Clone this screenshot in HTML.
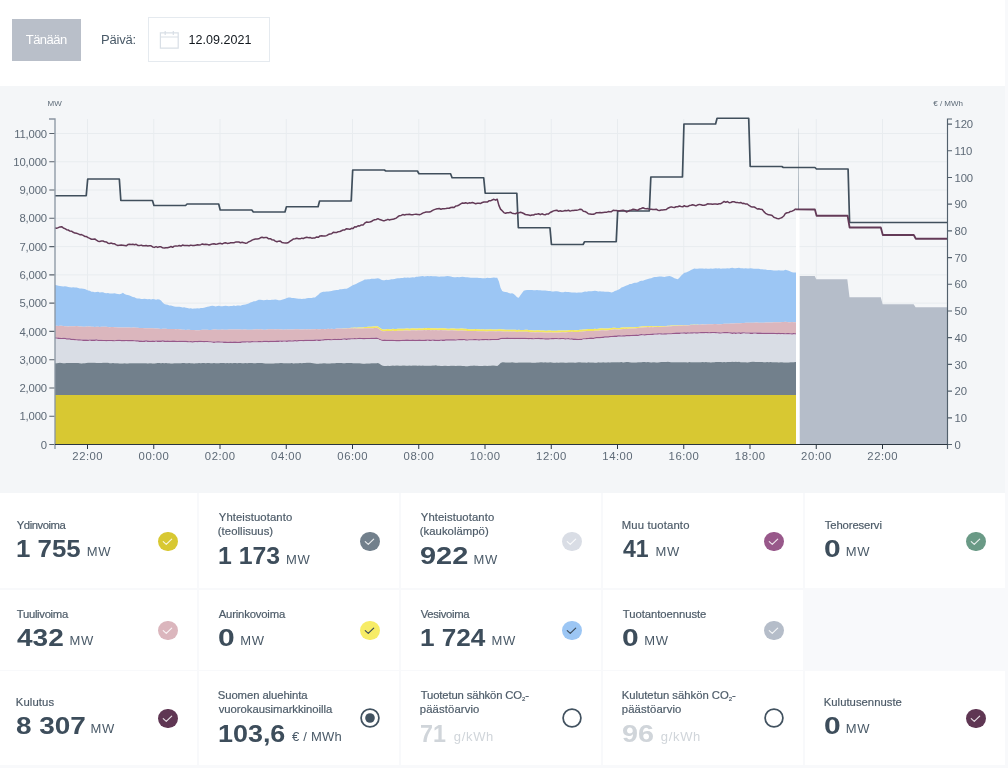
<!DOCTYPE html>
<html lang="fi"><head><meta charset="utf-8"><title>Sähköjärjestelmän tila</title>
<style>
*{box-sizing:border-box;margin:0;padding:0}
html,body{width:1008px;height:768px;overflow:hidden;background:#f8f9fb;font-family:"Liberation Sans",sans-serif;color:#3d4d5b}
.page{position:absolute;left:0;top:0;width:1005px;height:768px;background:#fff;overflow:hidden;will-change:transform}
.btn{position:absolute;left:12px;top:19px;width:68.5px;height:42px;background:#b9bfc9;color:#fff;font-size:13px;line-height:42px;text-align:center;letter-spacing:-0.5px}
.plbl{position:absolute;left:101px;top:30px;font-size:13px;line-height:20px;color:#4a5a68;letter-spacing:-0.2px}
.date{position:absolute;left:148px;top:17px;width:122px;height:45px;border:1px solid #e5eaef;background:#fff}
.date svg{position:absolute;left:10px;top:12px}
.date span{position:absolute;left:39.5px;top:11.7px;font-size:12.5px;line-height:20px;color:#11171d;letter-spacing:0.05px}
.panel{position:absolute;left:0;top:86px;width:1005px;height:407px;background:#f4f6f8}
.chart{position:absolute;left:0;top:0}
.cards{position:absolute;left:0;top:493px;width:1005px;height:275px;background:#f8f9fb}
.card{position:absolute;background:#fff}
.cardwrap{position:absolute;left:0;top:0;will-change:transform}
.lb{position:absolute;white-space:nowrap;font-size:11.3px;line-height:13px;color:#4e5c69;-webkit-text-stroke:0.2px #4e5c69}
.lb sub{font-size:6px;vertical-align:baseline;position:relative;top:2px}
.nm{position:absolute;white-space:nowrap;font-size:24px;line-height:27px;font-weight:700;color:#3d4d5b;transform-origin:0 50%}
.un{position:absolute;white-space:nowrap;font-size:13px;line-height:15px;color:#4a5a68}
.faded .nm,.faded .un{color:#d0d5da}
.ic{position:absolute;width:20px;height:20px}
.ck{display:block;width:19.4px;height:19.4px;border-radius:50%;margin:0.5px 0 0 0.5px}
.ck svg,.rdo{display:block}
.rd{display:block;width:19.5px;height:19.5px;border-radius:50%;border:1.9px solid #425260;position:relative;margin:0.25px}
.rd i{position:absolute;left:50%;top:50%;width:9.6px;height:9.6px;margin:-4.8px 0 0 -4.8px;border-radius:50%;background:#425260}
.empty{position:absolute;left:804px;top:589px;width:201px;height:81.5px;background:#f8f9fb}
</style></head><body>
<div class="page">
<div class="btn">Tänään</div>
<div class="plbl">Päivä:</div>
<div class="date"><svg width="21" height="20" viewBox="0 0 21 20"><path d="M1.4 2.8h17.8v15.3h-17.8zM1.4 7h17.8M6.2 1v3.9M14.3 1v3.9" fill="none" stroke="#d9dfe6" stroke-width="1.2"/></svg><span>12.09.2021</span></div>
<div class="panel"><svg class="chart" width="1005" height="407" viewBox="0 86 1005 407">
<defs><linearGradient id="ng" x1="0" y1="0" x2="0" y2="1"><stop offset="0" stop-color="#8593a0" stop-opacity="0.15"/><stop offset="1" stop-color="#8593a0" stop-opacity="0.8"/></linearGradient></defs>
<path d="M87.5 119.0V444.5M153.75 119.0V444.5M220 119.0V444.5M286.25 119.0V444.5M352.5 119.0V444.5M418.75 119.0V444.5M485 119.0V444.5M551.25 119.0V444.5M617.5 119.0V444.5M683.75 119.0V444.5M750 119.0V444.5M816.25 119.0V444.5M882.5 119.0V444.5M55.0 416.23H947.5M55.0 387.95H947.5M55.0 359.68H947.5M55.0 331.41H947.5M55.0 303.13H947.5M55.0 274.86H947.5M55.0 246.59H947.5M55.0 218.32H947.5M55.0 190.04H947.5M55.0 161.77H947.5M55.0 133.5H947.5" stroke="#e8ecef" stroke-width="1" fill="none"/>
<path d="M55 285.09 L56.66 285.37 L58.31 285.7 L59.97 286.09 L61.62 286.26 L63.28 286.58 L64.94 286.23 L66.59 286.41 L68.25 286.94 L69.91 287.13 L71.56 287.51 L73.22 287.27 L74.88 287.46 L76.53 287.62 L78.19 288.05 L79.84 288.47 L81.5 288.46 L83.16 288.73 L84.81 289.07 L86.47 289.85 L88.12 290.47 L89.78 290.81 L91.44 291.72 L93.09 291.87 L94.75 292.13 L96.41 291.98 L98.06 291.84 L99.72 292.41 L101.38 292.33 L103.03 292.33 L104.69 292.91 L106.34 293.22 L108 293.04 L109.66 293.45 L111.31 293.44 L112.97 293.57 L114.62 293.36 L116.28 293.8 L117.94 293.92 L119.59 294.23 L121.25 293.81 L122.91 292.75 L124.56 294.09 L126.22 294.7 L127.88 295.1 L129.53 295.51 L131.19 296.15 L132.84 296.96 L134.5 297.26 L136.16 298.14 L137.81 298.55 L139.47 298.56 L141.12 298.94 L142.78 298.95 L144.44 298.87 L146.09 298.96 L147.75 299.19 L149.41 298.89 L151.06 299.38 L152.72 299.03 L154.38 299.35 L156.03 299.63 L157.69 299.24 L159.34 299.57 L161 300.56 L162.66 302.45 L164.31 303.92 L165.97 304.61 L167.62 304.8 L169.28 305.54 L170.94 305.53 L172.59 306 L174.25 306.49 L175.91 306.87 L177.56 306.77 L179.22 306.79 L180.88 307.01 L182.53 307.4 L184.19 307.25 L185.84 307.69 L187.5 308.07 L189.16 308.43 L190.81 308.15 L192.47 308.7 L194.12 308.51 L195.78 308.45 L197.44 308.37 L199.09 308.44 L200.75 307.98 L202.41 308.02 L204.06 307.68 L205.72 307.22 L207.38 306.86 L209.03 306.44 L210.69 306.03 L212.34 305.74 L214 306.04 L215.66 306.43 L217.31 306.07 L218.97 305.76 L220.62 306.22 L222.28 306.17 L223.94 306.03 L225.59 305.82 L227.25 305.93 L228.91 306.15 L230.56 306.01 L232.22 305.89 L233.88 305.55 L235.53 305.94 L237.19 305.54 L238.84 305.61 L240.5 305.74 L242.16 304.93 L243.81 304.66 L245.47 304.46 L247.12 303.91 L248.78 303.5 L250.44 302.57 L252.09 302.05 L253.75 301.34 L255.41 301.18 L257.06 300.43 L258.72 299.85 L260.38 299.8 L262.03 299.97 L263.69 300.18 L265.34 299.95 L267 299.86 L268.66 299.99 L270.31 299.91 L271.97 299.74 L273.62 299.74 L275.28 299.57 L276.94 299.65 L278.59 300.14 L280.25 300.37 L281.91 299.87 L283.56 299.32 L285.22 298.71 L286.88 298 L288.53 297.54 L290.19 297.52 L291.84 297.95 L293.5 297.92 L295.16 298.27 L296.81 298.54 L298.47 298.72 L300.12 298.87 L301.78 299.1 L303.44 298.73 L305.09 298.66 L306.75 298.25 L308.41 298.09 L310.06 298.12 L311.72 298.02 L313.38 297.61 L315.03 297.39 L316.69 296.04 L318.34 294.66 L320 292.9 L321.66 292.26 L323.31 291.83 L324.97 291.76 L326.62 291.46 L328.28 291.41 L329.94 291.15 L331.59 290.98 L333.25 290.46 L334.91 290.23 L336.56 290.05 L338.22 289.89 L339.88 289.35 L341.53 289.25 L343.19 289.1 L344.84 288.77 L346.5 288.66 L348.16 288.1 L349.81 287.04 L351.47 286.1 L353.12 284.95 L354.78 284.41 L356.44 283.84 L358.09 282.85 L359.75 282.08 L361.41 281.32 L363.06 280.55 L364.72 279.46 L366.38 279.48 L368.03 279.28 L369.69 279.15 L371.34 278.83 L373 278.7 L374.66 278.66 L376.31 278.47 L377.97 278.34 L379.62 278.77 L381.28 279.7 L382.94 280.17 L384.59 280.2 L386.25 279.86 L387.91 279.91 L389.56 279.83 L391.22 279.31 L392.88 279.23 L394.53 278.95 L396.19 278.59 L397.84 278.36 L399.5 278.29 L401.16 278.09 L402.81 277.91 L404.47 277.62 L406.12 277.68 L407.78 277.6 L409.44 277.64 L411.09 277.58 L412.75 277.24 L414.41 277.43 L416.06 276.85 L417.72 276.71 L419.38 276.48 L421.03 276.36 L422.69 276.08 L424.34 276.46 L426 276.36 L427.66 276.06 L429.31 276.28 L430.97 276.04 L432.62 276.2 L434.28 276.15 L435.94 276.28 L437.59 276.62 L439.25 276.71 L440.91 276.49 L442.56 276.62 L444.22 276.57 L445.88 276.35 L447.53 276.08 L449.19 276.33 L450.84 276.49 L452.5 276.9 L454.16 277.19 L455.81 277.15 L457.47 276.99 L459.12 277.31 L460.78 276.92 L462.44 276.79 L464.09 277.08 L465.75 277.32 L467.41 277.18 L469.06 277.47 L470.72 277.87 L472.38 277.78 L474.03 277.81 L475.69 277.72 L477.34 277.73 L479 278.12 L480.66 277.93 L482.31 278.21 L483.97 278.32 L485.62 278.15 L487.28 277.8 L488.94 278.08 L490.59 277.89 L492.25 277.7 L493.91 277.51 L495.56 277.84 L497.22 277.68 L498.88 281.58 L500.53 287.65 L502.19 291.1 L503.84 291.66 L505.5 292.01 L507.16 292.25 L508.81 292.88 L510.47 293.43 L512.12 293.33 L513.78 294.12 L515.44 295.4 L517.09 297.2 L518.75 297.67 L520.41 295.25 L522.06 292.96 L523.72 290.66 L525.38 290.14 L527.03 289.94 L528.69 290.04 L530.34 290.01 L532 290.1 L533.66 290.14 L535.31 290.25 L536.97 289.88 L538.62 290.26 L540.28 290.22 L541.94 290.42 L543.59 290.46 L545.25 290.51 L546.91 290.76 L548.56 290.93 L550.22 291.01 L551.88 291.39 L553.53 291.57 L555.19 291.29 L556.84 291.29 L558.5 291.45 L560.16 291.9 L561.81 292.18 L563.47 292.13 L565.12 291.76 L566.78 292.09 L568.44 292.08 L570.09 292.2 L571.75 292.39 L573.41 292.47 L575.06 292.45 L576.72 292.76 L578.38 292.61 L580.03 292.38 L581.69 292.43 L583.34 291.93 L585 291.62 L586.66 291.73 L588.31 291.18 L589.97 291.32 L591.62 291.22 L593.28 290.9 L594.94 290.73 L596.59 291.12 L598.25 291.51 L599.91 291.27 L601.56 291.42 L603.22 291.62 L604.88 291.77 L606.53 291.81 L608.19 291.76 L609.84 292.1 L611.5 292.53 L613.16 292.06 L614.81 291.06 L616.47 290.5 L618.12 289.79 L619.78 288.91 L621.44 287.58 L623.09 286.9 L624.75 286.32 L626.41 285.62 L628.06 285.05 L629.72 284.09 L631.38 283.89 L633.03 283.16 L634.69 282.83 L636.34 282.67 L638 282.23 L639.66 281.37 L641.31 280.79 L642.97 280.7 L644.62 279.93 L646.28 279.6 L647.94 279.09 L649.59 278.43 L651.25 278.17 L652.91 277.43 L654.56 276.96 L656.22 276.95 L657.88 276.67 L659.53 276.45 L661.19 276.62 L662.84 276.8 L664.5 276.94 L666.16 276.46 L667.81 276.33 L669.47 276.11 L671.12 276.58 L672.78 277.31 L674.44 278.35 L676.09 278.87 L677.75 279.24 L679.41 277.76 L681.06 275.8 L682.72 274.27 L684.38 272.81 L686.03 272.4 L687.69 271.63 L689.34 270.93 L691 269.98 L692.66 269.33 L694.31 268.58 L695.97 268.83 L697.62 268.81 L699.28 268.53 L700.94 268.43 L702.59 268.47 L704.25 268.75 L705.91 268.52 L707.56 268.76 L709.22 268.87 L710.88 268.53 L712.53 268.74 L714.19 268.46 L715.84 268.31 L717.5 268.52 L719.16 268.37 L720.81 268.7 L722.47 268.61 L724.12 268.42 L725.78 268.62 L727.44 268.18 L729.09 268.38 L730.75 268.02 L732.41 267.85 L734.06 268.28 L735.72 268.34 L737.38 268.03 L739.03 267.75 L740.69 268.16 L742.34 268.25 L744 268.49 L745.66 268.2 L747.31 268.41 L748.97 268.38 L750.62 268.32 L752.28 268.39 L753.94 268.67 L755.59 268.7 L757.25 268.78 L758.91 268.69 L760.56 269.16 L762.22 269.36 L763.88 269.62 L765.53 269.56 L767.19 269.89 L768.84 269.96 L770.5 270.12 L772.16 270.27 L773.81 270.55 L775.47 270.55 L777.12 270.41 L778.78 270.36 L780.44 270.51 L782.09 270.56 L783.75 270.62 L785.41 269.75 L787.06 270.2 L788.72 270.67 L790.38 271.59 L792.03 272.15 L793.69 272.38 L795.34 272.47 L796 272.51 L796 322.14 L795.34 322.23 L793.69 322.18 L792.03 321.99 L790.38 322.23 L788.72 322.22 L787.06 322.06 L785.41 321.86 L783.75 321.99 L782.09 322.1 L780.44 322.24 L778.78 322.23 L777.12 322.24 L775.47 322.27 L773.81 322.16 L772.16 322.39 L770.5 322.57 L768.84 322.45 L767.19 322.53 L765.53 322.6 L763.88 322.65 L762.22 322.74 L760.56 322.73 L758.91 322.69 L757.25 322.61 L755.59 322.5 L753.94 322.64 L752.28 322.72 L750.62 322.63 L748.97 322.82 L747.31 322.85 L745.66 322.74 L744 322.9 L742.34 322.88 L740.69 323.2 L739.03 323.3 L737.38 323.24 L735.72 323.26 L734.06 323.48 L732.41 323.39 L730.75 323.39 L729.09 323.7 L727.44 323.84 L725.78 323.87 L724.12 323.86 L722.47 324.12 L720.81 324.14 L719.16 324.13 L717.5 324.21 L715.84 324.11 L714.19 324.02 L712.53 324.24 L710.88 324.22 L709.22 324.3 L707.56 324.34 L705.91 324.57 L704.25 324.5 L702.59 324.33 L700.94 324.49 L699.28 324.71 L697.62 324.5 L695.97 324.76 L694.31 324.57 L692.66 324.79 L691 324.87 L689.34 324.97 L687.69 325.16 L686.03 325.07 L684.38 325.01 L682.72 325.07 L681.06 325.23 L679.41 325.05 L677.75 325.17 L676.09 325.42 L674.44 325.51 L672.78 325.39 L671.12 325.62 L669.47 325.73 L667.81 325.84 L666.16 325.88 L664.5 325.93 L662.84 326.08 L661.19 326.17 L659.53 326.18 L657.88 326.12 L656.22 326.18 L654.56 326.2 L652.91 326.23 L651.25 326.11 L649.59 326.27 L647.94 326 L646.28 326.13 L644.62 326.26 L642.97 326.28 L641.31 326.45 L639.66 326.65 L638 326.88 L636.34 326.97 L634.69 327.23 L633.03 327.16 L631.38 327.27 L629.72 327.3 L628.06 327.23 L626.41 327.48 L624.75 327.33 L623.09 327.44 L621.44 327.62 L619.78 327.93 L618.12 327.97 L616.47 327.91 L614.81 327.73 L613.16 327.84 L611.5 327.96 L609.84 328.21 L608.19 328.45 L606.53 328.6 L604.88 328.6 L603.22 328.5 L601.56 328.3 L599.91 328.53 L598.25 328.83 L596.59 328.94 L594.94 328.85 L593.28 329.02 L591.62 329.08 L589.97 329.05 L588.31 329.03 L586.66 329.17 L585 329.45 L583.34 329.59 L581.69 329.83 L580.03 329.82 L578.38 329.99 L576.72 330.19 L575.06 330.16 L573.41 330 L571.75 329.95 L570.09 330.04 L568.44 330.22 L566.78 330.43 L565.12 330.48 L563.47 330.41 L561.81 330.45 L560.16 330.62 L558.5 330.52 L556.84 330.74 L555.19 330.71 L553.53 330.76 L551.88 330.68 L550.22 330.61 L548.56 330.54 L546.91 330.79 L545.25 330.66 L543.59 330.61 L541.94 330.42 L540.28 330.38 L538.62 330.37 L536.97 330.33 L535.31 330.56 L533.66 330.45 L532 330.37 L530.34 330.26 L528.69 330.08 L527.03 329.73 L525.38 329.79 L523.72 329.9 L522.06 329.93 L520.41 329.97 L518.75 329.85 L517.09 329.99 L515.44 329.73 L513.78 329.68 L512.12 329.82 L510.47 329.72 L508.81 329.75 L507.16 329.69 L505.5 329.73 L503.84 329.48 L502.19 329.56 L500.53 329.29 L498.88 329.3 L497.22 329.39 L495.56 329.52 L493.91 329.41 L492.25 329.46 L490.59 329.28 L488.94 329.42 L487.28 329.48 L485.62 329.5 L483.97 329.42 L482.31 329.26 L480.66 329.39 L479 329.23 L477.34 329.28 L475.69 329.09 L474.03 329.2 L472.38 329.2 L470.72 329.17 L469.06 329.18 L467.41 328.99 L465.75 328.83 L464.09 328.87 L462.44 328.62 L460.78 328.62 L459.12 328.77 L457.47 328.77 L455.81 328.63 L454.16 328.58 L452.5 328.47 L450.84 328.47 L449.19 328.7 L447.53 328.64 L445.88 328.42 L444.22 328.31 L442.56 328.3 L440.91 328.2 L439.25 328.28 L437.59 328.43 L435.94 328.22 L434.28 328.37 L432.62 328.22 L430.97 328.25 L429.31 328.04 L427.66 328.06 L426 328.25 L424.34 328.12 L422.69 328.42 L421.03 328.42 L419.38 328.33 L417.72 328.43 L416.06 328.51 L414.41 328.38 L412.75 328.29 L411.09 328.46 L409.44 328.73 L407.78 328.55 L406.12 328.56 L404.47 328.7 L402.81 328.85 L401.16 328.75 L399.5 328.84 L397.84 328.83 L396.19 329.11 L394.53 329.03 L392.88 328.87 L391.22 329.13 L389.56 329.18 L387.91 329.08 L386.25 329.15 L384.59 329.38 L382.94 329.42 L381.28 328.8 L379.62 327.7 L377.97 326.55 L376.31 326.14 L374.66 326.47 L373 326.61 L371.34 326.81 L369.69 326.86 L368.03 326.81 L366.38 327.02 L364.72 327.07 L363.06 327.4 L361.41 327.42 L359.75 327.6 L358.09 327.61 L356.44 327.63 L354.78 327.56 L353.12 327.85 L351.47 327.74 L349.81 328.06 L348.16 327.93 L346.5 328.24 L344.84 328.56 L343.19 328.53 L341.53 328.54 L339.88 328.59 L338.22 328.49 L336.56 328.62 L334.91 328.89 L333.25 328.91 L331.59 328.72 L329.94 328.95 L328.28 328.81 L326.62 329.12 L324.97 329.2 L323.31 329.12 L321.66 328.96 L320 329.27 L318.34 329.19 L316.69 329.05 L315.03 329.24 L313.38 329.25 L311.72 329.28 L310.06 329.39 L308.41 329.36 L306.75 329.41 L305.09 329.37 L303.44 329.38 L301.78 329.59 L300.12 329.5 L298.47 329.37 L296.81 329.17 L295.16 329.27 L293.5 329.5 L291.84 329.6 L290.19 329.61 L288.53 329.58 L286.88 329.61 L285.22 329.5 L283.56 329.64 L281.91 329.46 L280.25 329.45 L278.59 329.19 L276.94 329.32 L275.28 329.47 L273.62 329.23 L271.97 329.25 L270.31 329.3 L268.66 329.34 L267 329.4 L265.34 329.63 L263.69 329.71 L262.03 329.6 L260.38 329.37 L258.72 329.42 L257.06 329.37 L255.41 329.55 L253.75 329.58 L252.09 329.74 L250.44 329.84 L248.78 329.66 L247.12 329.74 L245.47 329.62 L243.81 329.57 L242.16 329.76 L240.5 329.49 L238.84 329.52 L237.19 329.41 L235.53 329.52 L233.88 329.62 L232.22 329.43 L230.56 329.44 L228.91 329.53 L227.25 329.67 L225.59 329.8 L223.94 329.85 L222.28 329.57 L220.62 329.69 L218.97 329.74 L217.31 329.78 L215.66 329.55 L214 329.57 L212.34 329.68 L210.69 329.88 L209.03 330 L207.38 329.76 L205.72 329.74 L204.06 329.87 L202.41 329.86 L200.75 330.02 L199.09 330.21 L197.44 330.17 L195.78 330.22 L194.12 330.05 L192.47 330.1 L190.81 329.99 L189.16 329.71 L187.5 329.73 L185.84 330 L184.19 329.85 L182.53 329.8 L180.88 329.6 L179.22 329.35 L177.56 329.1 L175.91 329.17 L174.25 329.05 L172.59 329.07 L170.94 329.04 L169.28 329.09 L167.62 328.97 L165.97 328.71 L164.31 328.68 L162.66 328.76 L161 328.93 L159.34 328.7 L157.69 328.59 L156.03 328.62 L154.38 328.41 L152.72 328.36 L151.06 328.37 L149.41 328.2 L147.75 328.23 L146.09 328.19 L144.44 328.31 L142.78 328.01 L141.12 327.99 L139.47 327.91 L137.81 327.78 L136.16 327.76 L134.5 327.53 L132.84 327.59 L131.19 327.73 L129.53 327.48 L127.88 327.45 L126.22 327.53 L124.56 327.53 L122.91 327.46 L121.25 327.5 L119.59 327.55 L117.94 327.44 L116.28 327.28 L114.62 327.26 L112.97 327.03 L111.31 327.11 L109.66 327.14 L108 326.98 L106.34 326.7 L104.69 326.8 L103.03 326.75 L101.38 326.87 L99.72 326.88 L98.06 326.8 L96.41 326.73 L94.75 326.97 L93.09 326.87 L91.44 326.74 L89.78 326.62 L88.12 326.52 L86.47 326.58 L84.81 326.77 L83.16 326.7 L81.5 326.6 L79.84 326.44 L78.19 326.13 L76.53 326.11 L74.88 326.17 L73.22 326.24 L71.56 326.31 L69.91 326.26 L68.25 326.42 L66.59 326.34 L64.94 326.2 L63.28 325.91 L61.62 325.8 L59.97 325.84 L58.31 325.88 L56.66 325.81 L55 325.89Z" fill="#9cc6f4"/>
<path d="M55 325.89 L56.66 325.81 L58.31 325.88 L59.97 325.84 L61.62 325.8 L63.28 325.91 L64.94 326.2 L66.59 326.34 L68.25 326.42 L69.91 326.26 L71.56 326.31 L73.22 326.24 L74.88 326.17 L76.53 326.11 L78.19 326.13 L79.84 326.44 L81.5 326.6 L83.16 326.7 L84.81 326.77 L86.47 326.58 L88.12 326.52 L89.78 326.62 L91.44 326.74 L93.09 326.87 L94.75 326.97 L96.41 326.73 L98.06 326.8 L99.72 326.88 L101.38 326.87 L103.03 326.75 L104.69 326.8 L106.34 326.7 L108 326.98 L109.66 327.14 L111.31 327.11 L112.97 327.03 L114.62 327.26 L116.28 327.28 L117.94 327.44 L119.59 327.55 L121.25 327.5 L122.91 327.46 L124.56 327.53 L126.22 327.53 L127.88 327.45 L129.53 327.48 L131.19 327.73 L132.84 327.59 L134.5 327.53 L136.16 327.76 L137.81 327.78 L139.47 327.91 L141.12 327.99 L142.78 328.01 L144.44 328.31 L146.09 328.19 L147.75 328.23 L149.41 328.2 L151.06 328.37 L152.72 328.36 L154.38 328.41 L156.03 328.62 L157.69 328.59 L159.34 328.7 L161 328.93 L162.66 328.76 L164.31 328.68 L165.97 328.71 L167.62 328.97 L169.28 329.09 L170.94 329.04 L172.59 329.07 L174.25 329.05 L175.91 329.17 L177.56 329.1 L179.22 329.35 L180.88 329.6 L182.53 329.8 L184.19 329.85 L185.84 330 L187.5 329.73 L189.16 329.71 L190.81 329.99 L192.47 330.1 L194.12 330.05 L195.78 330.22 L197.44 330.17 L199.09 330.21 L200.75 330.02 L202.41 329.86 L204.06 329.87 L205.72 329.74 L207.38 329.76 L209.03 330 L210.69 329.88 L212.34 329.68 L214 329.57 L215.66 329.55 L217.31 329.78 L218.97 329.74 L220.62 329.69 L222.28 329.57 L223.94 329.85 L225.59 329.8 L227.25 329.67 L228.91 329.53 L230.56 329.44 L232.22 329.43 L233.88 329.62 L235.53 329.52 L237.19 329.41 L238.84 329.52 L240.5 329.49 L242.16 329.76 L243.81 329.57 L245.47 329.62 L247.12 329.74 L248.78 329.66 L250.44 329.84 L252.09 329.74 L253.75 329.58 L255.41 329.55 L257.06 329.37 L258.72 329.42 L260.38 329.37 L262.03 329.6 L263.69 329.71 L265.34 329.63 L267 329.4 L268.66 329.34 L270.31 329.3 L271.97 329.25 L273.62 329.23 L275.28 329.47 L276.94 329.32 L278.59 329.19 L280.25 329.45 L281.91 329.46 L283.56 329.64 L285.22 329.5 L286.88 329.61 L288.53 329.58 L290.19 329.61 L291.84 329.6 L293.5 329.5 L295.16 329.27 L296.81 329.17 L298.47 329.37 L300.12 329.5 L301.78 329.59 L303.44 329.38 L305.09 329.37 L306.75 329.41 L308.41 329.36 L310.06 329.39 L311.72 329.28 L313.38 329.25 L315.03 329.24 L316.69 329.05 L318.34 329.19 L320 329.27 L321.66 328.96 L323.31 329.12 L324.97 329.2 L326.62 329.12 L328.28 328.81 L329.94 328.95 L331.59 328.72 L333.25 328.91 L334.91 328.89 L336.56 328.62 L338.22 328.49 L339.88 328.59 L341.53 328.54 L343.19 328.53 L344.84 328.56 L346.5 328.24 L348.16 327.93 L349.81 328.06 L351.47 327.74 L353.12 327.85 L354.78 327.56 L356.44 327.63 L358.09 327.61 L359.75 327.6 L361.41 327.42 L363.06 327.4 L364.72 327.07 L366.38 327.02 L368.03 326.81 L369.69 326.86 L371.34 326.81 L373 326.61 L374.66 326.47 L376.31 326.14 L377.97 326.55 L379.62 327.7 L381.28 328.8 L382.94 329.42 L384.59 329.38 L386.25 329.15 L387.91 329.08 L389.56 329.18 L391.22 329.13 L392.88 328.87 L394.53 329.03 L396.19 329.11 L397.84 328.83 L399.5 328.84 L401.16 328.75 L402.81 328.85 L404.47 328.7 L406.12 328.56 L407.78 328.55 L409.44 328.73 L411.09 328.46 L412.75 328.29 L414.41 328.38 L416.06 328.51 L417.72 328.43 L419.38 328.33 L421.03 328.42 L422.69 328.42 L424.34 328.12 L426 328.25 L427.66 328.06 L429.31 328.04 L430.97 328.25 L432.62 328.22 L434.28 328.37 L435.94 328.22 L437.59 328.43 L439.25 328.28 L440.91 328.2 L442.56 328.3 L444.22 328.31 L445.88 328.42 L447.53 328.64 L449.19 328.7 L450.84 328.47 L452.5 328.47 L454.16 328.58 L455.81 328.63 L457.47 328.77 L459.12 328.77 L460.78 328.62 L462.44 328.62 L464.09 328.87 L465.75 328.83 L467.41 328.99 L469.06 329.18 L470.72 329.17 L472.38 329.2 L474.03 329.2 L475.69 329.09 L477.34 329.28 L479 329.23 L480.66 329.39 L482.31 329.26 L483.97 329.42 L485.62 329.5 L487.28 329.48 L488.94 329.42 L490.59 329.28 L492.25 329.46 L493.91 329.41 L495.56 329.52 L497.22 329.39 L498.88 329.3 L500.53 329.29 L502.19 329.56 L503.84 329.48 L505.5 329.73 L507.16 329.69 L508.81 329.75 L510.47 329.72 L512.12 329.82 L513.78 329.68 L515.44 329.73 L517.09 329.99 L518.75 329.85 L520.41 329.97 L522.06 329.93 L523.72 329.9 L525.38 329.79 L527.03 329.73 L528.69 330.08 L530.34 330.26 L532 330.37 L533.66 330.45 L535.31 330.56 L536.97 330.33 L538.62 330.37 L540.28 330.38 L541.94 330.42 L543.59 330.61 L545.25 330.66 L546.91 330.79 L548.56 330.54 L550.22 330.61 L551.88 330.68 L553.53 330.76 L555.19 330.71 L556.84 330.74 L558.5 330.52 L560.16 330.62 L561.81 330.45 L563.47 330.41 L565.12 330.48 L566.78 330.43 L568.44 330.22 L570.09 330.04 L571.75 329.95 L573.41 330 L575.06 330.16 L576.72 330.19 L578.38 329.99 L580.03 329.82 L581.69 329.83 L583.34 329.59 L585 329.45 L586.66 329.17 L588.31 329.03 L589.97 329.05 L591.62 329.08 L593.28 329.02 L594.94 328.85 L596.59 328.94 L598.25 328.83 L599.91 328.53 L601.56 328.3 L603.22 328.5 L604.88 328.6 L606.53 328.6 L608.19 328.45 L609.84 328.21 L611.5 327.96 L613.16 327.84 L614.81 327.73 L616.47 327.91 L618.12 327.97 L619.78 327.93 L621.44 327.62 L623.09 327.44 L624.75 327.33 L626.41 327.48 L628.06 327.23 L629.72 327.3 L631.38 327.27 L633.03 327.16 L634.69 327.23 L636.34 326.97 L638 326.88 L639.66 326.65 L641.31 326.45 L642.97 326.28 L644.62 326.26 L646.28 326.13 L647.94 326 L649.59 326.27 L651.25 326.11 L652.91 326.23 L654.56 326.2 L656.22 326.18 L657.88 326.12 L659.53 326.18 L661.19 326.17 L662.84 326.08 L664.5 325.93 L666.16 325.88 L667.81 325.84 L669.47 325.73 L671.12 325.62 L672.78 325.39 L674.44 325.51 L676.09 325.42 L677.75 325.17 L679.41 325.05 L681.06 325.23 L682.72 325.07 L684.38 325.01 L686.03 325.07 L687.69 325.16 L689.34 324.97 L691 324.87 L692.66 324.79 L694.31 324.57 L695.97 324.76 L697.62 324.5 L699.28 324.71 L700.94 324.49 L702.59 324.33 L704.25 324.5 L705.91 324.57 L707.56 324.34 L709.22 324.3 L710.88 324.22 L712.53 324.24 L714.19 324.02 L715.84 324.11 L717.5 324.21 L719.16 324.13 L720.81 324.14 L722.47 324.12 L724.12 323.86 L725.78 323.87 L727.44 323.84 L729.09 323.7 L730.75 323.39 L732.41 323.39 L734.06 323.48 L735.72 323.26 L737.38 323.24 L739.03 323.3 L740.69 323.2 L742.34 322.88 L744 322.9 L745.66 322.74 L747.31 322.85 L748.97 322.82 L750.62 322.63 L752.28 322.72 L753.94 322.64 L755.59 322.5 L757.25 322.61 L758.91 322.69 L760.56 322.73 L762.22 322.74 L763.88 322.65 L765.53 322.6 L767.19 322.53 L768.84 322.45 L770.5 322.57 L772.16 322.39 L773.81 322.16 L775.47 322.27 L777.12 322.24 L778.78 322.23 L780.44 322.24 L782.09 322.1 L783.75 321.99 L785.41 321.86 L787.06 322.06 L788.72 322.22 L790.38 322.23 L792.03 321.99 L793.69 322.18 L795.34 322.23 L796 322.14 L796 322.14 L795.34 322.23 L793.69 322.18 L792.03 321.99 L790.38 322.23 L788.72 322.22 L787.06 322.06 L785.41 321.86 L783.75 321.99 L782.09 322.1 L780.44 322.24 L778.78 322.23 L777.12 322.24 L775.47 322.27 L773.81 322.16 L772.16 322.39 L770.5 322.57 L768.84 322.45 L767.19 322.53 L765.53 322.6 L763.88 322.65 L762.22 322.74 L760.56 322.73 L758.91 322.69 L757.25 322.61 L755.59 322.5 L753.94 322.64 L752.28 322.72 L750.62 322.63 L748.97 322.82 L747.31 322.85 L745.66 322.74 L744 322.9 L742.34 322.88 L740.69 323.2 L739.03 323.3 L737.38 323.24 L735.72 323.26 L734.06 323.48 L732.41 323.39 L730.75 323.39 L729.09 323.7 L727.44 323.84 L725.78 323.87 L724.12 323.86 L722.47 324.12 L720.81 324.14 L719.16 324.13 L717.5 324.21 L715.84 324.11 L714.19 324.02 L712.53 324.24 L710.88 324.22 L709.22 324.3 L707.56 324.34 L705.91 324.57 L704.25 324.51 L702.59 324.38 L700.94 324.56 L699.28 324.81 L697.62 324.64 L695.97 324.92 L694.31 324.77 L692.66 325.02 L691 325.12 L689.34 325.26 L687.69 325.47 L686.03 325.41 L684.38 325.39 L682.72 325.48 L681.06 325.66 L679.41 325.51 L677.75 325.67 L676.09 325.94 L674.44 326.06 L672.78 325.98 L671.12 326.23 L669.47 326.37 L667.81 326.51 L666.16 326.58 L664.5 326.67 L662.84 326.84 L661.19 326.96 L659.53 327.01 L657.88 326.97 L656.22 327.07 L654.56 327.11 L652.91 327.17 L651.25 327.08 L649.59 327.27 L647.94 327.04 L646.28 327.2 L644.62 327.35 L642.97 327.4 L641.31 327.6 L639.66 327.83 L638 328.09 L636.34 328.21 L634.69 328.51 L633.03 328.47 L631.38 328.6 L629.72 328.67 L628.06 328.63 L626.41 328.91 L624.75 328.78 L623.09 328.92 L621.44 329.13 L619.78 329.47 L618.12 329.54 L616.47 329.51 L614.81 329.36 L613.16 329.5 L611.5 329.65 L609.84 329.94 L608.19 330.2 L606.53 330.39 L604.88 330.41 L603.22 330.35 L601.56 330.18 L599.91 330.43 L598.25 330.73 L596.59 330.84 L594.94 330.75 L593.28 330.92 L591.62 330.98 L589.97 330.95 L588.31 330.93 L586.66 331.07 L585 331.35 L583.34 331.49 L581.69 331.73 L580.03 331.72 L578.38 331.89 L576.72 332.09 L575.06 332.06 L573.41 331.9 L571.75 331.85 L570.09 331.94 L568.44 332.12 L566.78 332.33 L565.12 332.38 L563.47 332.31 L561.81 332.35 L560.16 332.52 L558.5 332.42 L556.84 332.64 L555.19 332.61 L553.53 332.66 L551.88 332.58 L550.22 332.51 L548.56 332.44 L546.91 332.69 L545.25 332.56 L543.59 332.51 L541.94 332.32 L540.28 332.28 L538.62 332.27 L536.97 332.23 L535.31 332.46 L533.66 332.35 L532 332.27 L530.34 332.16 L528.69 331.98 L527.03 331.63 L525.38 331.69 L523.72 331.8 L522.06 331.83 L520.41 331.87 L518.75 331.75 L517.09 331.89 L515.44 331.63 L513.78 331.58 L512.12 331.72 L510.47 331.62 L508.81 331.65 L507.16 331.59 L505.5 331.63 L503.84 331.38 L502.19 331.46 L500.53 331.19 L498.88 331.2 L497.22 331.29 L495.56 331.42 L493.91 331.31 L492.25 331.36 L490.59 331.18 L488.94 331.32 L487.28 331.38 L485.62 331.4 L483.97 331.32 L482.31 331.16 L480.66 331.29 L479 331.13 L477.34 331.18 L475.69 330.99 L474.03 331.1 L472.38 331.1 L470.72 331.07 L469.06 331.08 L467.41 330.89 L465.75 330.73 L464.09 330.77 L462.44 330.52 L460.78 330.52 L459.12 330.67 L457.47 330.67 L455.81 330.53 L454.16 330.48 L452.5 330.37 L450.84 330.37 L449.19 330.6 L447.53 330.54 L445.88 330.32 L444.22 330.21 L442.56 330.2 L440.91 330.1 L439.25 330.18 L437.59 330.33 L435.94 330.12 L434.28 330.27 L432.62 330.12 L430.97 330.15 L429.31 329.94 L427.66 329.96 L426 330.15 L424.34 330.02 L422.69 330.32 L421.03 330.32 L419.38 330.23 L417.72 330.33 L416.06 330.41 L414.41 330.28 L412.75 330.19 L411.09 330.36 L409.44 330.63 L407.78 330.45 L406.12 330.46 L404.47 330.6 L402.81 330.75 L401.16 330.65 L399.5 330.74 L397.84 330.73 L396.19 331.01 L394.53 330.93 L392.88 330.77 L391.22 331.03 L389.56 331.08 L387.91 330.98 L386.25 331.05 L384.59 331.28 L382.94 331.32 L381.28 330.7 L379.62 329.58 L377.97 328.36 L376.31 327.87 L374.66 328.12 L373 328.18 L371.34 328.3 L369.69 328.27 L368.03 328.14 L366.38 328.27 L364.72 328.24 L363.06 328.49 L361.41 328.43 L359.75 328.54 L358.09 328.47 L356.44 328.41 L354.78 328.26 L353.12 328.47 L351.47 328.28 L349.81 328.53 L348.16 328.32 L346.5 328.55 L344.84 328.79 L343.19 328.68 L341.53 328.61 L339.88 328.59 L338.22 328.49 L336.56 328.62 L334.91 328.89 L333.25 328.91 L331.59 328.72 L329.94 328.95 L328.28 328.81 L326.62 329.12 L324.97 329.2 L323.31 329.12 L321.66 328.96 L320 329.27 L318.34 329.19 L316.69 329.05 L315.03 329.24 L313.38 329.25 L311.72 329.28 L310.06 329.39 L308.41 329.36 L306.75 329.41 L305.09 329.37 L303.44 329.38 L301.78 329.59 L300.12 329.5 L298.47 329.37 L296.81 329.17 L295.16 329.27 L293.5 329.5 L291.84 329.6 L290.19 329.61 L288.53 329.58 L286.88 329.61 L285.22 329.5 L283.56 329.64 L281.91 329.46 L280.25 329.45 L278.59 329.19 L276.94 329.32 L275.28 329.47 L273.62 329.23 L271.97 329.25 L270.31 329.3 L268.66 329.34 L267 329.4 L265.34 329.63 L263.69 329.71 L262.03 329.6 L260.38 329.37 L258.72 329.42 L257.06 329.37 L255.41 329.55 L253.75 329.58 L252.09 329.74 L250.44 329.84 L248.78 329.66 L247.12 329.74 L245.47 329.62 L243.81 329.57 L242.16 329.76 L240.5 329.49 L238.84 329.52 L237.19 329.41 L235.53 329.52 L233.88 329.62 L232.22 329.43 L230.56 329.44 L228.91 329.53 L227.25 329.67 L225.59 329.8 L223.94 329.85 L222.28 329.57 L220.62 329.69 L218.97 329.74 L217.31 329.78 L215.66 329.55 L214 329.57 L212.34 329.68 L210.69 329.88 L209.03 330 L207.38 329.76 L205.72 329.74 L204.06 329.87 L202.41 329.86 L200.75 330.02 L199.09 330.21 L197.44 330.17 L195.78 330.22 L194.12 330.05 L192.47 330.1 L190.81 329.99 L189.16 329.71 L187.5 329.73 L185.84 330 L184.19 329.85 L182.53 329.8 L180.88 329.6 L179.22 329.35 L177.56 329.1 L175.91 329.17 L174.25 329.05 L172.59 329.07 L170.94 329.04 L169.28 329.09 L167.62 328.97 L165.97 328.71 L164.31 328.68 L162.66 328.76 L161 328.93 L159.34 328.7 L157.69 328.59 L156.03 328.62 L154.38 328.41 L152.72 328.36 L151.06 328.37 L149.41 328.2 L147.75 328.23 L146.09 328.19 L144.44 328.31 L142.78 328.01 L141.12 327.99 L139.47 327.91 L137.81 327.78 L136.16 327.76 L134.5 327.53 L132.84 327.59 L131.19 327.73 L129.53 327.48 L127.88 327.45 L126.22 327.53 L124.56 327.53 L122.91 327.46 L121.25 327.5 L119.59 327.55 L117.94 327.44 L116.28 327.28 L114.62 327.26 L112.97 327.03 L111.31 327.11 L109.66 327.14 L108 326.98 L106.34 326.7 L104.69 326.8 L103.03 326.75 L101.38 326.87 L99.72 326.88 L98.06 326.8 L96.41 326.73 L94.75 326.97 L93.09 326.87 L91.44 326.74 L89.78 326.62 L88.12 326.52 L86.47 326.58 L84.81 326.77 L83.16 326.7 L81.5 326.6 L79.84 326.44 L78.19 326.13 L76.53 326.11 L74.88 326.17 L73.22 326.24 L71.56 326.31 L69.91 326.26 L68.25 326.42 L66.59 326.34 L64.94 326.2 L63.28 325.91 L61.62 325.8 L59.97 325.84 L58.31 325.88 L56.66 325.81 L55 325.89Z" fill="#f3e75c"/>
<path d="M55 325.89 L56.66 325.81 L58.31 325.88 L59.97 325.84 L61.62 325.8 L63.28 325.91 L64.94 326.2 L66.59 326.34 L68.25 326.42 L69.91 326.26 L71.56 326.31 L73.22 326.24 L74.88 326.17 L76.53 326.11 L78.19 326.13 L79.84 326.44 L81.5 326.6 L83.16 326.7 L84.81 326.77 L86.47 326.58 L88.12 326.52 L89.78 326.62 L91.44 326.74 L93.09 326.87 L94.75 326.97 L96.41 326.73 L98.06 326.8 L99.72 326.88 L101.38 326.87 L103.03 326.75 L104.69 326.8 L106.34 326.7 L108 326.98 L109.66 327.14 L111.31 327.11 L112.97 327.03 L114.62 327.26 L116.28 327.28 L117.94 327.44 L119.59 327.55 L121.25 327.5 L122.91 327.46 L124.56 327.53 L126.22 327.53 L127.88 327.45 L129.53 327.48 L131.19 327.73 L132.84 327.59 L134.5 327.53 L136.16 327.76 L137.81 327.78 L139.47 327.91 L141.12 327.99 L142.78 328.01 L144.44 328.31 L146.09 328.19 L147.75 328.23 L149.41 328.2 L151.06 328.37 L152.72 328.36 L154.38 328.41 L156.03 328.62 L157.69 328.59 L159.34 328.7 L161 328.93 L162.66 328.76 L164.31 328.68 L165.97 328.71 L167.62 328.97 L169.28 329.09 L170.94 329.04 L172.59 329.07 L174.25 329.05 L175.91 329.17 L177.56 329.1 L179.22 329.35 L180.88 329.6 L182.53 329.8 L184.19 329.85 L185.84 330 L187.5 329.73 L189.16 329.71 L190.81 329.99 L192.47 330.1 L194.12 330.05 L195.78 330.22 L197.44 330.17 L199.09 330.21 L200.75 330.02 L202.41 329.86 L204.06 329.87 L205.72 329.74 L207.38 329.76 L209.03 330 L210.69 329.88 L212.34 329.68 L214 329.57 L215.66 329.55 L217.31 329.78 L218.97 329.74 L220.62 329.69 L222.28 329.57 L223.94 329.85 L225.59 329.8 L227.25 329.67 L228.91 329.53 L230.56 329.44 L232.22 329.43 L233.88 329.62 L235.53 329.52 L237.19 329.41 L238.84 329.52 L240.5 329.49 L242.16 329.76 L243.81 329.57 L245.47 329.62 L247.12 329.74 L248.78 329.66 L250.44 329.84 L252.09 329.74 L253.75 329.58 L255.41 329.55 L257.06 329.37 L258.72 329.42 L260.38 329.37 L262.03 329.6 L263.69 329.71 L265.34 329.63 L267 329.4 L268.66 329.34 L270.31 329.3 L271.97 329.25 L273.62 329.23 L275.28 329.47 L276.94 329.32 L278.59 329.19 L280.25 329.45 L281.91 329.46 L283.56 329.64 L285.22 329.5 L286.88 329.61 L288.53 329.58 L290.19 329.61 L291.84 329.6 L293.5 329.5 L295.16 329.27 L296.81 329.17 L298.47 329.37 L300.12 329.5 L301.78 329.59 L303.44 329.38 L305.09 329.37 L306.75 329.41 L308.41 329.36 L310.06 329.39 L311.72 329.28 L313.38 329.25 L315.03 329.24 L316.69 329.05 L318.34 329.19 L320 329.27 L321.66 328.96 L323.31 329.12 L324.97 329.2 L326.62 329.12 L328.28 328.81 L329.94 328.95 L331.59 328.72 L333.25 328.91 L334.91 328.89 L336.56 328.62 L338.22 328.49 L339.88 328.59 L341.53 328.61 L343.19 328.68 L344.84 328.79 L346.5 328.55 L348.16 328.32 L349.81 328.53 L351.47 328.28 L353.12 328.47 L354.78 328.26 L356.44 328.41 L358.09 328.47 L359.75 328.54 L361.41 328.43 L363.06 328.49 L364.72 328.24 L366.38 328.27 L368.03 328.14 L369.69 328.27 L371.34 328.3 L373 328.18 L374.66 328.12 L376.31 327.87 L377.97 328.36 L379.62 329.58 L381.28 330.7 L382.94 331.32 L384.59 331.28 L386.25 331.05 L387.91 330.98 L389.56 331.08 L391.22 331.03 L392.88 330.77 L394.53 330.93 L396.19 331.01 L397.84 330.73 L399.5 330.74 L401.16 330.65 L402.81 330.75 L404.47 330.6 L406.12 330.46 L407.78 330.45 L409.44 330.63 L411.09 330.36 L412.75 330.19 L414.41 330.28 L416.06 330.41 L417.72 330.33 L419.38 330.23 L421.03 330.32 L422.69 330.32 L424.34 330.02 L426 330.15 L427.66 329.96 L429.31 329.94 L430.97 330.15 L432.62 330.12 L434.28 330.27 L435.94 330.12 L437.59 330.33 L439.25 330.18 L440.91 330.1 L442.56 330.2 L444.22 330.21 L445.88 330.32 L447.53 330.54 L449.19 330.6 L450.84 330.37 L452.5 330.37 L454.16 330.48 L455.81 330.53 L457.47 330.67 L459.12 330.67 L460.78 330.52 L462.44 330.52 L464.09 330.77 L465.75 330.73 L467.41 330.89 L469.06 331.08 L470.72 331.07 L472.38 331.1 L474.03 331.1 L475.69 330.99 L477.34 331.18 L479 331.13 L480.66 331.29 L482.31 331.16 L483.97 331.32 L485.62 331.4 L487.28 331.38 L488.94 331.32 L490.59 331.18 L492.25 331.36 L493.91 331.31 L495.56 331.42 L497.22 331.29 L498.88 331.2 L500.53 331.19 L502.19 331.46 L503.84 331.38 L505.5 331.63 L507.16 331.59 L508.81 331.65 L510.47 331.62 L512.12 331.72 L513.78 331.58 L515.44 331.63 L517.09 331.89 L518.75 331.75 L520.41 331.87 L522.06 331.83 L523.72 331.8 L525.38 331.69 L527.03 331.63 L528.69 331.98 L530.34 332.16 L532 332.27 L533.66 332.35 L535.31 332.46 L536.97 332.23 L538.62 332.27 L540.28 332.28 L541.94 332.32 L543.59 332.51 L545.25 332.56 L546.91 332.69 L548.56 332.44 L550.22 332.51 L551.88 332.58 L553.53 332.66 L555.19 332.61 L556.84 332.64 L558.5 332.42 L560.16 332.52 L561.81 332.35 L563.47 332.31 L565.12 332.38 L566.78 332.33 L568.44 332.12 L570.09 331.94 L571.75 331.85 L573.41 331.9 L575.06 332.06 L576.72 332.09 L578.38 331.89 L580.03 331.72 L581.69 331.73 L583.34 331.49 L585 331.35 L586.66 331.07 L588.31 330.93 L589.97 330.95 L591.62 330.98 L593.28 330.92 L594.94 330.75 L596.59 330.84 L598.25 330.73 L599.91 330.43 L601.56 330.18 L603.22 330.35 L604.88 330.41 L606.53 330.39 L608.19 330.2 L609.84 329.94 L611.5 329.65 L613.16 329.5 L614.81 329.36 L616.47 329.51 L618.12 329.54 L619.78 329.47 L621.44 329.13 L623.09 328.92 L624.75 328.78 L626.41 328.91 L628.06 328.63 L629.72 328.67 L631.38 328.6 L633.03 328.47 L634.69 328.51 L636.34 328.21 L638 328.09 L639.66 327.83 L641.31 327.6 L642.97 327.4 L644.62 327.35 L646.28 327.2 L647.94 327.04 L649.59 327.27 L651.25 327.08 L652.91 327.17 L654.56 327.11 L656.22 327.07 L657.88 326.97 L659.53 327.01 L661.19 326.96 L662.84 326.84 L664.5 326.67 L666.16 326.58 L667.81 326.51 L669.47 326.37 L671.12 326.23 L672.78 325.98 L674.44 326.06 L676.09 325.94 L677.75 325.67 L679.41 325.51 L681.06 325.66 L682.72 325.48 L684.38 325.39 L686.03 325.41 L687.69 325.47 L689.34 325.26 L691 325.12 L692.66 325.02 L694.31 324.77 L695.97 324.92 L697.62 324.64 L699.28 324.81 L700.94 324.56 L702.59 324.38 L704.25 324.51 L705.91 324.57 L707.56 324.34 L709.22 324.3 L710.88 324.22 L712.53 324.24 L714.19 324.02 L715.84 324.11 L717.5 324.21 L719.16 324.13 L720.81 324.14 L722.47 324.12 L724.12 323.86 L725.78 323.87 L727.44 323.84 L729.09 323.7 L730.75 323.39 L732.41 323.39 L734.06 323.48 L735.72 323.26 L737.38 323.24 L739.03 323.3 L740.69 323.2 L742.34 322.88 L744 322.9 L745.66 322.74 L747.31 322.85 L748.97 322.82 L750.62 322.63 L752.28 322.72 L753.94 322.64 L755.59 322.5 L757.25 322.61 L758.91 322.69 L760.56 322.73 L762.22 322.74 L763.88 322.65 L765.53 322.6 L767.19 322.53 L768.84 322.45 L770.5 322.57 L772.16 322.39 L773.81 322.16 L775.47 322.27 L777.12 322.24 L778.78 322.23 L780.44 322.24 L782.09 322.1 L783.75 321.99 L785.41 321.86 L787.06 322.06 L788.72 322.22 L790.38 322.23 L792.03 321.99 L793.69 322.18 L795.34 322.23 L796 322.14 L796 333.35 L795.34 333.21 L793.69 333.09 L792.03 333.24 L790.38 333.15 L788.72 333.1 L787.06 333.02 L785.41 333.16 L783.75 333.09 L782.09 332.97 L780.44 333.06 L778.78 332.85 L777.12 333.07 L775.47 332.91 L773.81 332.66 L772.16 332.78 L770.5 332.63 L768.84 332.65 L767.19 332.8 L765.53 332.78 L763.88 332.86 L762.22 332.63 L760.56 332.51 L758.91 332.58 L757.25 332.51 L755.59 332.45 L753.94 332.43 L752.28 332.62 L750.62 332.52 L748.97 332.42 L747.31 332.41 L745.66 332.47 L744 332.22 L742.34 332.31 L740.69 332.48 L739.03 332.36 L737.38 332.38 L735.72 332.5 L734.06 332.34 L732.41 332.51 L730.75 332.37 L729.09 332.18 L727.44 331.99 L725.78 332.03 L724.12 332.07 L722.47 332.19 L720.81 332.38 L719.16 332.31 L717.5 332.13 L715.84 332.04 L714.19 331.89 L712.53 331.96 L710.88 332.1 L709.22 332.2 L707.56 332.05 L705.91 331.97 L704.25 332.08 L702.59 332.04 L700.94 332.04 L699.28 332.17 L697.62 332.29 L695.97 332.28 L694.31 332.22 L692.66 332.32 L691 332.36 L689.34 332.47 L687.69 332.28 L686.03 332.48 L684.38 332.35 L682.72 332.41 L681.06 332.43 L679.41 332.56 L677.75 332.6 L676.09 332.56 L674.44 332.76 L672.78 332.93 L671.12 333.13 L669.47 333.21 L667.81 333.14 L666.16 333.27 L664.5 333.25 L662.84 333.45 L661.19 333.32 L659.53 333.22 L657.88 333.34 L656.22 333.44 L654.56 333.38 L652.91 333.53 L651.25 333.69 L649.59 333.94 L647.94 333.96 L646.28 334.11 L644.62 334.26 L642.97 334.18 L641.31 334.1 L639.66 334.34 L638 334.65 L636.34 334.62 L634.69 334.67 L633.03 334.8 L631.38 334.94 L629.72 335 L628.06 335 L626.41 334.99 L624.75 335.26 L623.09 335.26 L621.44 335.42 L619.78 335.27 L618.12 335.26 L616.47 335.48 L614.81 335.59 L613.16 335.76 L611.5 335.91 L609.84 336.09 L608.19 336.29 L606.53 336.3 L604.88 336.31 L603.22 336.49 L601.56 336.73 L599.91 337.01 L598.25 337 L596.59 337.07 L594.94 337.25 L593.28 337.64 L591.62 337.62 L589.97 337.62 L588.31 337.96 L586.66 338.03 L585 338.2 L583.34 338.21 L581.69 338.63 L580.03 338.72 L578.38 338.88 L576.72 338.74 L575.06 338.61 L573.41 338.52 L571.75 338.28 L570.09 338.39 L568.44 338.1 L566.78 338.2 L565.12 338.27 L563.47 337.96 L561.81 337.97 L560.16 338.01 L558.5 338.14 L556.84 337.89 L555.19 337.92 L553.53 338.09 L551.88 338.02 L550.22 338.22 L548.56 338.27 L546.91 338.24 L545.25 338.26 L543.59 338.21 L541.94 338.07 L540.28 338.01 L538.62 337.81 L536.97 337.95 L535.31 337.97 L533.66 338.15 L532 338.1 L530.34 337.96 L528.69 338.09 L527.03 337.93 L525.38 337.73 L523.72 337.7 L522.06 337.66 L520.41 337.83 L518.75 337.73 L517.09 337.66 L515.44 337.76 L513.78 337.8 L512.12 337.71 L510.47 337.75 L508.81 337.65 L507.16 337.62 L505.5 337.68 L503.84 337.74 L502.19 337.72 L500.53 338.03 L498.88 338.6 L497.22 338.96 L495.56 338.91 L493.91 338.88 L492.25 338.94 L490.59 339.1 L488.94 339.16 L487.28 339.04 L485.62 338.93 L483.97 339.03 L482.31 339.05 L480.66 339.16 L479 339.24 L477.34 339.2 L475.69 339.1 L474.03 339.11 L472.38 339.15 L470.72 339.22 L469.06 339.19 L467.41 339.41 L465.75 339.27 L464.09 338.94 L462.44 338.99 L460.78 339.02 L459.12 339.08 L457.47 339.2 L455.81 339.44 L454.16 339.32 L452.5 339.3 L450.84 339.31 L449.19 339.24 L447.53 339.28 L445.88 339.35 L444.22 339.61 L442.56 339.49 L440.91 339.44 L439.25 339.76 L437.59 339.74 L435.94 339.71 L434.28 339.58 L432.62 339.45 L430.97 339.63 L429.31 339.49 L427.66 339.45 L426 339.59 L424.34 339.71 L422.69 339.63 L421.03 339.69 L419.38 339.52 L417.72 339.64 L416.06 339.77 L414.41 339.79 L412.75 339.62 L411.09 339.66 L409.44 339.66 L407.78 339.55 L406.12 339.6 L404.47 339.77 L402.81 339.66 L401.16 339.96 L399.5 340.08 L397.84 340.05 L396.19 340 L394.53 339.88 L392.88 339.84 L391.22 339.63 L389.56 339.83 L387.91 339.65 L386.25 339.7 L384.59 339.57 L382.94 339.69 L381.28 339.42 L379.62 338.65 L377.97 337.96 L376.31 337.58 L374.66 337.66 L373 337.65 L371.34 337.65 L369.69 337.95 L368.03 337.95 L366.38 337.89 L364.72 338.1 L363.06 338.03 L361.41 337.96 L359.75 337.74 L358.09 337.97 L356.44 338.22 L354.78 338.07 L353.12 338.13 L351.47 338.19 L349.81 338.24 L348.16 338.33 L346.5 338.49 L344.84 338.37 L343.19 338.47 L341.53 338.69 L339.88 338.89 L338.22 338.86 L336.56 338.89 L334.91 338.78 L333.25 338.91 L331.59 339.16 L329.94 339.09 L328.28 338.95 L326.62 339.09 L324.97 339.07 L323.31 339.25 L321.66 339.45 L320 339.6 L318.34 339.5 L316.69 339.47 L315.03 339.57 L313.38 339.82 L311.72 339.74 L310.06 339.84 L308.41 339.7 L306.75 339.76 L305.09 339.83 L303.44 340.05 L301.78 339.97 L300.12 339.97 L298.47 340.1 L296.81 340.26 L295.16 340.12 L293.5 340.25 L291.84 340.39 L290.19 340.3 L288.53 340.25 L286.88 340.49 L285.22 340.38 L283.56 340.42 L281.91 340.52 L280.25 340.47 L278.59 340.51 L276.94 340.59 L275.28 340.66 L273.62 340.78 L271.97 340.77 L270.31 340.82 L268.66 341.01 L267 340.83 L265.34 340.7 L263.69 340.87 L262.03 341.16 L260.38 341.12 L258.72 341.07 L257.06 341.18 L255.41 341.13 L253.75 341.16 L252.09 341.08 L250.44 341.29 L248.78 341.24 L247.12 341.15 L245.47 341.36 L243.81 341.32 L242.16 341.33 L240.5 341.59 L238.84 341.65 L237.19 341.73 L235.53 341.48 L233.88 341.52 L232.22 341.65 L230.56 341.57 L228.91 341.63 L227.25 341.69 L225.59 341.53 L223.94 341.49 L222.28 341.47 L220.62 341.44 L218.97 341.37 L217.31 341.36 L215.66 341.39 L214 341.51 L212.34 341.38 L210.69 341.13 L209.03 341.17 L207.38 340.89 L205.72 340.97 L204.06 341.06 L202.41 340.92 L200.75 340.84 L199.09 340.85 L197.44 341.01 L195.78 340.9 L194.12 341.08 L192.47 341.25 L190.81 341.09 L189.16 341.17 L187.5 340.99 L185.84 340.78 L184.19 340.82 L182.53 340.63 L180.88 340.79 L179.22 340.68 L177.56 340.9 L175.91 340.74 L174.25 340.54 L172.59 340.55 L170.94 340.67 L169.28 340.73 L167.62 340.57 L165.97 340.79 L164.31 340.59 L162.66 340.35 L161 340.49 L159.34 340.6 L157.69 340.6 L156.03 340.45 L154.38 340.64 L152.72 340.62 L151.06 340.7 L149.41 340.63 L147.75 340.49 L146.09 340.34 L144.44 340.57 L142.78 340.63 L141.12 340.53 L139.47 340.48 L137.81 340.35 L136.16 340.33 L134.5 340.15 L132.84 340.08 L131.19 339.99 L129.53 340 L127.88 340.01 L126.22 339.97 L124.56 340.05 L122.91 339.98 L121.25 340.01 L119.59 339.72 L117.94 339.75 L116.28 339.88 L114.62 340.14 L112.97 340.05 L111.31 339.9 L109.66 339.97 L108 339.88 L106.34 340.02 L104.69 339.91 L103.03 339.88 L101.38 339.74 L99.72 339.63 L98.06 339.63 L96.41 339.37 L94.75 339.52 L93.09 339.61 L91.44 339.57 L89.78 339.41 L88.12 339.63 L86.47 339.6 L84.81 339.52 L83.16 339.55 L81.5 339.38 L79.84 339.26 L78.19 339.31 L76.53 339.16 L74.88 339.1 L73.22 338.85 L71.56 338.77 L69.91 338.37 L68.25 338.29 L66.59 338.24 L64.94 337.86 L63.28 337.87 L61.62 337.93 L59.97 337.74 L58.31 337.54 L56.66 337.44 L55 337.25Z" fill="#dbb6bd"/>
<path d="M55 337.25 L56.66 337.44 L58.31 337.54 L59.97 337.74 L61.62 337.93 L63.28 337.87 L64.94 337.86 L66.59 338.24 L68.25 338.29 L69.91 338.37 L71.56 338.77 L73.22 338.85 L74.88 339.1 L76.53 339.16 L78.19 339.31 L79.84 339.26 L81.5 339.38 L83.16 339.55 L84.81 339.52 L86.47 339.6 L88.12 339.63 L89.78 339.41 L91.44 339.57 L93.09 339.61 L94.75 339.52 L96.41 339.37 L98.06 339.63 L99.72 339.63 L101.38 339.74 L103.03 339.88 L104.69 339.91 L106.34 340.02 L108 339.88 L109.66 339.97 L111.31 339.9 L112.97 340.05 L114.62 340.14 L116.28 339.88 L117.94 339.75 L119.59 339.72 L121.25 340.01 L122.91 339.98 L124.56 340.05 L126.22 339.97 L127.88 340.01 L129.53 340 L131.19 339.99 L132.84 340.08 L134.5 340.15 L136.16 340.33 L137.81 340.35 L139.47 340.48 L141.12 340.53 L142.78 340.63 L144.44 340.57 L146.09 340.34 L147.75 340.49 L149.41 340.63 L151.06 340.7 L152.72 340.62 L154.38 340.64 L156.03 340.45 L157.69 340.6 L159.34 340.6 L161 340.49 L162.66 340.35 L164.31 340.59 L165.97 340.79 L167.62 340.57 L169.28 340.73 L170.94 340.67 L172.59 340.55 L174.25 340.54 L175.91 340.74 L177.56 340.9 L179.22 340.68 L180.88 340.79 L182.53 340.63 L184.19 340.82 L185.84 340.78 L187.5 340.99 L189.16 341.17 L190.81 341.09 L192.47 341.25 L194.12 341.08 L195.78 340.9 L197.44 341.01 L199.09 340.85 L200.75 340.84 L202.41 340.92 L204.06 341.06 L205.72 340.97 L207.38 340.89 L209.03 341.17 L210.69 341.13 L212.34 341.38 L214 341.51 L215.66 341.39 L217.31 341.36 L218.97 341.37 L220.62 341.44 L222.28 341.47 L223.94 341.49 L225.59 341.53 L227.25 341.69 L228.91 341.63 L230.56 341.57 L232.22 341.65 L233.88 341.52 L235.53 341.48 L237.19 341.73 L238.84 341.65 L240.5 341.59 L242.16 341.33 L243.81 341.32 L245.47 341.36 L247.12 341.15 L248.78 341.24 L250.44 341.29 L252.09 341.08 L253.75 341.16 L255.41 341.13 L257.06 341.18 L258.72 341.07 L260.38 341.12 L262.03 341.16 L263.69 340.87 L265.34 340.7 L267 340.83 L268.66 341.01 L270.31 340.82 L271.97 340.77 L273.62 340.78 L275.28 340.66 L276.94 340.59 L278.59 340.51 L280.25 340.47 L281.91 340.52 L283.56 340.42 L285.22 340.38 L286.88 340.49 L288.53 340.25 L290.19 340.3 L291.84 340.39 L293.5 340.25 L295.16 340.12 L296.81 340.26 L298.47 340.1 L300.12 339.97 L301.78 339.97 L303.44 340.05 L305.09 339.83 L306.75 339.76 L308.41 339.7 L310.06 339.84 L311.72 339.74 L313.38 339.82 L315.03 339.57 L316.69 339.47 L318.34 339.5 L320 339.6 L321.66 339.45 L323.31 339.25 L324.97 339.07 L326.62 339.09 L328.28 338.95 L329.94 339.09 L331.59 339.16 L333.25 338.91 L334.91 338.78 L336.56 338.89 L338.22 338.86 L339.88 338.89 L341.53 338.69 L343.19 338.47 L344.84 338.37 L346.5 338.49 L348.16 338.33 L349.81 338.24 L351.47 338.19 L353.12 338.13 L354.78 338.07 L356.44 338.22 L358.09 337.97 L359.75 337.74 L361.41 337.96 L363.06 338.03 L364.72 338.1 L366.38 337.89 L368.03 337.95 L369.69 337.95 L371.34 337.65 L373 337.65 L374.66 337.66 L376.31 337.58 L377.97 337.96 L379.62 338.65 L381.28 339.42 L382.94 339.69 L384.59 339.57 L386.25 339.7 L387.91 339.65 L389.56 339.83 L391.22 339.63 L392.88 339.84 L394.53 339.88 L396.19 340 L397.84 340.05 L399.5 340.08 L401.16 339.96 L402.81 339.66 L404.47 339.77 L406.12 339.6 L407.78 339.55 L409.44 339.66 L411.09 339.66 L412.75 339.62 L414.41 339.79 L416.06 339.77 L417.72 339.64 L419.38 339.52 L421.03 339.69 L422.69 339.63 L424.34 339.71 L426 339.59 L427.66 339.45 L429.31 339.49 L430.97 339.63 L432.62 339.45 L434.28 339.58 L435.94 339.71 L437.59 339.74 L439.25 339.76 L440.91 339.44 L442.56 339.49 L444.22 339.61 L445.88 339.35 L447.53 339.28 L449.19 339.24 L450.84 339.31 L452.5 339.3 L454.16 339.32 L455.81 339.44 L457.47 339.2 L459.12 339.08 L460.78 339.02 L462.44 338.99 L464.09 338.94 L465.75 339.27 L467.41 339.41 L469.06 339.19 L470.72 339.22 L472.38 339.15 L474.03 339.11 L475.69 339.1 L477.34 339.2 L479 339.24 L480.66 339.16 L482.31 339.05 L483.97 339.03 L485.62 338.93 L487.28 339.04 L488.94 339.16 L490.59 339.1 L492.25 338.94 L493.91 338.88 L495.56 338.91 L497.22 338.96 L498.88 338.6 L500.53 338.03 L502.19 337.72 L503.84 337.74 L505.5 337.68 L507.16 337.62 L508.81 337.65 L510.47 337.75 L512.12 337.71 L513.78 337.8 L515.44 337.76 L517.09 337.66 L518.75 337.73 L520.41 337.83 L522.06 337.66 L523.72 337.7 L525.38 337.73 L527.03 337.93 L528.69 338.09 L530.34 337.96 L532 338.1 L533.66 338.15 L535.31 337.97 L536.97 337.95 L538.62 337.81 L540.28 338.01 L541.94 338.07 L543.59 338.21 L545.25 338.26 L546.91 338.24 L548.56 338.27 L550.22 338.22 L551.88 338.02 L553.53 338.09 L555.19 337.92 L556.84 337.89 L558.5 338.14 L560.16 338.01 L561.81 337.97 L563.47 337.96 L565.12 338.27 L566.78 338.2 L568.44 338.1 L570.09 338.39 L571.75 338.28 L573.41 338.52 L575.06 338.61 L576.72 338.74 L578.38 338.88 L580.03 338.72 L581.69 338.63 L583.34 338.21 L585 338.2 L586.66 338.03 L588.31 337.96 L589.97 337.62 L591.62 337.62 L593.28 337.64 L594.94 337.25 L596.59 337.07 L598.25 337 L599.91 337.01 L601.56 336.73 L603.22 336.49 L604.88 336.31 L606.53 336.3 L608.19 336.29 L609.84 336.09 L611.5 335.91 L613.16 335.76 L614.81 335.59 L616.47 335.48 L618.12 335.26 L619.78 335.27 L621.44 335.42 L623.09 335.26 L624.75 335.26 L626.41 334.99 L628.06 335 L629.72 335 L631.38 334.94 L633.03 334.8 L634.69 334.67 L636.34 334.62 L638 334.65 L639.66 334.34 L641.31 334.1 L642.97 334.18 L644.62 334.26 L646.28 334.11 L647.94 333.96 L649.59 333.94 L651.25 333.69 L652.91 333.53 L654.56 333.38 L656.22 333.44 L657.88 333.34 L659.53 333.22 L661.19 333.32 L662.84 333.45 L664.5 333.25 L666.16 333.27 L667.81 333.14 L669.47 333.21 L671.12 333.13 L672.78 332.93 L674.44 332.76 L676.09 332.56 L677.75 332.6 L679.41 332.56 L681.06 332.43 L682.72 332.41 L684.38 332.35 L686.03 332.48 L687.69 332.28 L689.34 332.47 L691 332.36 L692.66 332.32 L694.31 332.22 L695.97 332.28 L697.62 332.29 L699.28 332.17 L700.94 332.04 L702.59 332.04 L704.25 332.08 L705.91 331.97 L707.56 332.05 L709.22 332.2 L710.88 332.1 L712.53 331.96 L714.19 331.89 L715.84 332.04 L717.5 332.13 L719.16 332.31 L720.81 332.38 L722.47 332.19 L724.12 332.07 L725.78 332.03 L727.44 331.99 L729.09 332.18 L730.75 332.37 L732.41 332.51 L734.06 332.34 L735.72 332.5 L737.38 332.38 L739.03 332.36 L740.69 332.48 L742.34 332.31 L744 332.22 L745.66 332.47 L747.31 332.41 L748.97 332.42 L750.62 332.52 L752.28 332.62 L753.94 332.43 L755.59 332.45 L757.25 332.51 L758.91 332.58 L760.56 332.51 L762.22 332.63 L763.88 332.86 L765.53 332.78 L767.19 332.8 L768.84 332.65 L770.5 332.63 L772.16 332.78 L773.81 332.66 L775.47 332.91 L777.12 333.07 L778.78 332.85 L780.44 333.06 L782.09 332.97 L783.75 333.09 L785.41 333.16 L787.06 333.02 L788.72 333.1 L790.38 333.15 L792.03 333.24 L793.69 333.09 L795.34 333.21 L796 333.35 L796 334.75 L795.34 334.61 L793.69 334.49 L792.03 334.64 L790.38 334.55 L788.72 334.5 L787.06 334.42 L785.41 334.56 L783.75 334.49 L782.09 334.37 L780.44 334.46 L778.78 334.25 L777.12 334.47 L775.47 334.31 L773.81 334.06 L772.16 334.18 L770.5 334.03 L768.84 334.05 L767.19 334.2 L765.53 334.18 L763.88 334.26 L762.22 334.03 L760.56 333.91 L758.91 333.98 L757.25 333.91 L755.59 333.85 L753.94 333.83 L752.28 334.02 L750.62 333.92 L748.97 333.82 L747.31 333.81 L745.66 333.87 L744 333.62 L742.34 333.71 L740.69 333.88 L739.03 333.76 L737.38 333.78 L735.72 333.9 L734.06 333.74 L732.41 333.91 L730.75 333.77 L729.09 333.58 L727.44 333.39 L725.78 333.43 L724.12 333.47 L722.47 333.59 L720.81 333.78 L719.16 333.71 L717.5 333.53 L715.84 333.44 L714.19 333.29 L712.53 333.36 L710.88 333.5 L709.22 333.6 L707.56 333.45 L705.91 333.37 L704.25 333.48 L702.59 333.44 L700.94 333.44 L699.28 333.57 L697.62 333.69 L695.97 333.68 L694.31 333.62 L692.66 333.72 L691 333.76 L689.34 333.87 L687.69 333.68 L686.03 333.88 L684.38 333.75 L682.72 333.81 L681.06 333.83 L679.41 333.96 L677.75 334 L676.09 333.96 L674.44 334.16 L672.78 334.33 L671.12 334.53 L669.47 334.61 L667.81 334.54 L666.16 334.67 L664.5 334.65 L662.84 334.85 L661.19 334.72 L659.53 334.62 L657.88 334.74 L656.22 334.84 L654.56 334.78 L652.91 334.93 L651.25 335.09 L649.59 335.34 L647.94 335.36 L646.28 335.51 L644.62 335.66 L642.97 335.58 L641.31 335.5 L639.66 335.74 L638 336.05 L636.34 336.02 L634.69 336.07 L633.03 336.2 L631.38 336.34 L629.72 336.4 L628.06 336.4 L626.41 336.39 L624.75 336.66 L623.09 336.66 L621.44 336.82 L619.78 336.67 L618.12 336.66 L616.47 336.88 L614.81 336.99 L613.16 337.16 L611.5 337.31 L609.84 337.49 L608.19 337.69 L606.53 337.7 L604.88 337.71 L603.22 337.89 L601.56 338.13 L599.91 338.41 L598.25 338.4 L596.59 338.47 L594.94 338.65 L593.28 339.04 L591.62 339.02 L589.97 339.02 L588.31 339.36 L586.66 339.43 L585 339.6 L583.34 339.61 L581.69 340.03 L580.03 340.12 L578.38 340.28 L576.72 340.14 L575.06 340.01 L573.41 339.92 L571.75 339.68 L570.09 339.79 L568.44 339.5 L566.78 339.6 L565.12 339.67 L563.47 339.36 L561.81 339.37 L560.16 339.41 L558.5 339.54 L556.84 339.29 L555.19 339.32 L553.53 339.49 L551.88 339.42 L550.22 339.62 L548.56 339.67 L546.91 339.64 L545.25 339.66 L543.59 339.61 L541.94 339.47 L540.28 339.41 L538.62 339.21 L536.97 339.35 L535.31 339.37 L533.66 339.55 L532 339.5 L530.34 339.36 L528.69 339.49 L527.03 339.33 L525.38 339.13 L523.72 339.1 L522.06 339.06 L520.41 339.23 L518.75 339.13 L517.09 339.06 L515.44 339.16 L513.78 339.2 L512.12 339.11 L510.47 339.15 L508.81 339.05 L507.16 339.02 L505.5 339.08 L503.84 339.14 L502.19 339.12 L500.53 339.43 L498.88 340 L497.22 340.36 L495.56 340.31 L493.91 340.28 L492.25 340.34 L490.59 340.5 L488.94 340.56 L487.28 340.44 L485.62 340.33 L483.97 340.43 L482.31 340.45 L480.66 340.56 L479 340.64 L477.34 340.6 L475.69 340.5 L474.03 340.51 L472.38 340.55 L470.72 340.62 L469.06 340.59 L467.41 340.81 L465.75 340.67 L464.09 340.34 L462.44 340.39 L460.78 340.42 L459.12 340.48 L457.47 340.6 L455.81 340.84 L454.16 340.72 L452.5 340.7 L450.84 340.71 L449.19 340.64 L447.53 340.68 L445.88 340.75 L444.22 341.01 L442.56 340.89 L440.91 340.84 L439.25 341.16 L437.59 341.14 L435.94 341.11 L434.28 340.98 L432.62 340.85 L430.97 341.03 L429.31 340.89 L427.66 340.85 L426 340.99 L424.34 341.11 L422.69 341.03 L421.03 341.09 L419.38 340.92 L417.72 341.04 L416.06 341.17 L414.41 341.19 L412.75 341.02 L411.09 341.06 L409.44 341.06 L407.78 340.95 L406.12 341 L404.47 341.17 L402.81 341.06 L401.16 341.36 L399.5 341.48 L397.84 341.45 L396.19 341.4 L394.53 341.28 L392.88 341.24 L391.22 341.03 L389.56 341.23 L387.91 341.05 L386.25 341.1 L384.59 340.97 L382.94 341.09 L381.28 340.82 L379.62 340.05 L377.97 339.36 L376.31 338.98 L374.66 339.06 L373 339.05 L371.34 339.05 L369.69 339.35 L368.03 339.35 L366.38 339.29 L364.72 339.5 L363.06 339.43 L361.41 339.36 L359.75 339.14 L358.09 339.37 L356.44 339.62 L354.78 339.47 L353.12 339.53 L351.47 339.59 L349.81 339.64 L348.16 339.73 L346.5 339.89 L344.84 339.77 L343.19 339.87 L341.53 340.09 L339.88 340.29 L338.22 340.26 L336.56 340.29 L334.91 340.18 L333.25 340.31 L331.59 340.56 L329.94 340.49 L328.28 340.35 L326.62 340.49 L324.97 340.47 L323.31 340.65 L321.66 340.85 L320 341 L318.34 340.9 L316.69 340.87 L315.03 340.97 L313.38 341.22 L311.72 341.14 L310.06 341.24 L308.41 341.1 L306.75 341.16 L305.09 341.23 L303.44 341.45 L301.78 341.37 L300.12 341.37 L298.47 341.5 L296.81 341.66 L295.16 341.52 L293.5 341.65 L291.84 341.79 L290.19 341.7 L288.53 341.65 L286.88 341.89 L285.22 341.78 L283.56 341.82 L281.91 341.92 L280.25 341.87 L278.59 341.91 L276.94 341.99 L275.28 342.06 L273.62 342.18 L271.97 342.17 L270.31 342.22 L268.66 342.41 L267 342.23 L265.34 342.1 L263.69 342.27 L262.03 342.56 L260.38 342.52 L258.72 342.47 L257.06 342.58 L255.41 342.53 L253.75 342.56 L252.09 342.48 L250.44 342.69 L248.78 342.64 L247.12 342.55 L245.47 342.76 L243.81 342.72 L242.16 342.73 L240.5 342.99 L238.84 343.05 L237.19 343.13 L235.53 342.88 L233.88 342.92 L232.22 343.05 L230.56 342.97 L228.91 343.03 L227.25 343.09 L225.59 342.93 L223.94 342.89 L222.28 342.87 L220.62 342.84 L218.97 342.77 L217.31 342.76 L215.66 342.79 L214 342.91 L212.34 342.78 L210.69 342.53 L209.03 342.57 L207.38 342.29 L205.72 342.37 L204.06 342.46 L202.41 342.32 L200.75 342.24 L199.09 342.25 L197.44 342.41 L195.78 342.3 L194.12 342.48 L192.47 342.65 L190.81 342.49 L189.16 342.57 L187.5 342.39 L185.84 342.18 L184.19 342.22 L182.53 342.03 L180.88 342.19 L179.22 342.08 L177.56 342.3 L175.91 342.14 L174.25 341.94 L172.59 341.95 L170.94 342.07 L169.28 342.13 L167.62 341.97 L165.97 342.19 L164.31 341.99 L162.66 341.75 L161 341.89 L159.34 342 L157.69 342 L156.03 341.85 L154.38 342.04 L152.72 342.02 L151.06 342.1 L149.41 342.03 L147.75 341.89 L146.09 341.74 L144.44 341.97 L142.78 342.03 L141.12 341.93 L139.47 341.88 L137.81 341.75 L136.16 341.73 L134.5 341.55 L132.84 341.48 L131.19 341.39 L129.53 341.4 L127.88 341.41 L126.22 341.37 L124.56 341.45 L122.91 341.38 L121.25 341.41 L119.59 341.12 L117.94 341.15 L116.28 341.28 L114.62 341.54 L112.97 341.45 L111.31 341.3 L109.66 341.37 L108 341.28 L106.34 341.42 L104.69 341.31 L103.03 341.28 L101.38 341.14 L99.72 341.03 L98.06 341.03 L96.41 340.77 L94.75 340.92 L93.09 341.01 L91.44 340.97 L89.78 340.81 L88.12 341.03 L86.47 341 L84.81 340.92 L83.16 340.95 L81.5 340.78 L79.84 340.66 L78.19 340.71 L76.53 340.56 L74.88 340.5 L73.22 340.25 L71.56 340.17 L69.91 339.77 L68.25 339.69 L66.59 339.64 L64.94 339.26 L63.28 339.27 L61.62 339.33 L59.97 339.14 L58.31 338.94 L56.66 338.84 L55 338.65Z" fill="#97598a"/>
<path d="M55 338.65 L56.66 338.84 L58.31 338.94 L59.97 339.14 L61.62 339.33 L63.28 339.27 L64.94 339.26 L66.59 339.64 L68.25 339.69 L69.91 339.77 L71.56 340.17 L73.22 340.25 L74.88 340.5 L76.53 340.56 L78.19 340.71 L79.84 340.66 L81.5 340.78 L83.16 340.95 L84.81 340.92 L86.47 341 L88.12 341.03 L89.78 340.81 L91.44 340.97 L93.09 341.01 L94.75 340.92 L96.41 340.77 L98.06 341.03 L99.72 341.03 L101.38 341.14 L103.03 341.28 L104.69 341.31 L106.34 341.42 L108 341.28 L109.66 341.37 L111.31 341.3 L112.97 341.45 L114.62 341.54 L116.28 341.28 L117.94 341.15 L119.59 341.12 L121.25 341.41 L122.91 341.38 L124.56 341.45 L126.22 341.37 L127.88 341.41 L129.53 341.4 L131.19 341.39 L132.84 341.48 L134.5 341.55 L136.16 341.73 L137.81 341.75 L139.47 341.88 L141.12 341.93 L142.78 342.03 L144.44 341.97 L146.09 341.74 L147.75 341.89 L149.41 342.03 L151.06 342.1 L152.72 342.02 L154.38 342.04 L156.03 341.85 L157.69 342 L159.34 342 L161 341.89 L162.66 341.75 L164.31 341.99 L165.97 342.19 L167.62 341.97 L169.28 342.13 L170.94 342.07 L172.59 341.95 L174.25 341.94 L175.91 342.14 L177.56 342.3 L179.22 342.08 L180.88 342.19 L182.53 342.03 L184.19 342.22 L185.84 342.18 L187.5 342.39 L189.16 342.57 L190.81 342.49 L192.47 342.65 L194.12 342.48 L195.78 342.3 L197.44 342.41 L199.09 342.25 L200.75 342.24 L202.41 342.32 L204.06 342.46 L205.72 342.37 L207.38 342.29 L209.03 342.57 L210.69 342.53 L212.34 342.78 L214 342.91 L215.66 342.79 L217.31 342.76 L218.97 342.77 L220.62 342.84 L222.28 342.87 L223.94 342.89 L225.59 342.93 L227.25 343.09 L228.91 343.03 L230.56 342.97 L232.22 343.05 L233.88 342.92 L235.53 342.88 L237.19 343.13 L238.84 343.05 L240.5 342.99 L242.16 342.73 L243.81 342.72 L245.47 342.76 L247.12 342.55 L248.78 342.64 L250.44 342.69 L252.09 342.48 L253.75 342.56 L255.41 342.53 L257.06 342.58 L258.72 342.47 L260.38 342.52 L262.03 342.56 L263.69 342.27 L265.34 342.1 L267 342.23 L268.66 342.41 L270.31 342.22 L271.97 342.17 L273.62 342.18 L275.28 342.06 L276.94 341.99 L278.59 341.91 L280.25 341.87 L281.91 341.92 L283.56 341.82 L285.22 341.78 L286.88 341.89 L288.53 341.65 L290.19 341.7 L291.84 341.79 L293.5 341.65 L295.16 341.52 L296.81 341.66 L298.47 341.5 L300.12 341.37 L301.78 341.37 L303.44 341.45 L305.09 341.23 L306.75 341.16 L308.41 341.1 L310.06 341.24 L311.72 341.14 L313.38 341.22 L315.03 340.97 L316.69 340.87 L318.34 340.9 L320 341 L321.66 340.85 L323.31 340.65 L324.97 340.47 L326.62 340.49 L328.28 340.35 L329.94 340.49 L331.59 340.56 L333.25 340.31 L334.91 340.18 L336.56 340.29 L338.22 340.26 L339.88 340.29 L341.53 340.09 L343.19 339.87 L344.84 339.77 L346.5 339.89 L348.16 339.73 L349.81 339.64 L351.47 339.59 L353.12 339.53 L354.78 339.47 L356.44 339.62 L358.09 339.37 L359.75 339.14 L361.41 339.36 L363.06 339.43 L364.72 339.5 L366.38 339.29 L368.03 339.35 L369.69 339.35 L371.34 339.05 L373 339.05 L374.66 339.06 L376.31 338.98 L377.97 339.36 L379.62 340.05 L381.28 340.82 L382.94 341.09 L384.59 340.97 L386.25 341.1 L387.91 341.05 L389.56 341.23 L391.22 341.03 L392.88 341.24 L394.53 341.28 L396.19 341.4 L397.84 341.45 L399.5 341.48 L401.16 341.36 L402.81 341.06 L404.47 341.17 L406.12 341 L407.78 340.95 L409.44 341.06 L411.09 341.06 L412.75 341.02 L414.41 341.19 L416.06 341.17 L417.72 341.04 L419.38 340.92 L421.03 341.09 L422.69 341.03 L424.34 341.11 L426 340.99 L427.66 340.85 L429.31 340.89 L430.97 341.03 L432.62 340.85 L434.28 340.98 L435.94 341.11 L437.59 341.14 L439.25 341.16 L440.91 340.84 L442.56 340.89 L444.22 341.01 L445.88 340.75 L447.53 340.68 L449.19 340.64 L450.84 340.71 L452.5 340.7 L454.16 340.72 L455.81 340.84 L457.47 340.6 L459.12 340.48 L460.78 340.42 L462.44 340.39 L464.09 340.34 L465.75 340.67 L467.41 340.81 L469.06 340.59 L470.72 340.62 L472.38 340.55 L474.03 340.51 L475.69 340.5 L477.34 340.6 L479 340.64 L480.66 340.56 L482.31 340.45 L483.97 340.43 L485.62 340.33 L487.28 340.44 L488.94 340.56 L490.59 340.5 L492.25 340.34 L493.91 340.28 L495.56 340.31 L497.22 340.36 L498.88 340 L500.53 339.43 L502.19 339.12 L503.84 339.14 L505.5 339.08 L507.16 339.02 L508.81 339.05 L510.47 339.15 L512.12 339.11 L513.78 339.2 L515.44 339.16 L517.09 339.06 L518.75 339.13 L520.41 339.23 L522.06 339.06 L523.72 339.1 L525.38 339.13 L527.03 339.33 L528.69 339.49 L530.34 339.36 L532 339.5 L533.66 339.55 L535.31 339.37 L536.97 339.35 L538.62 339.21 L540.28 339.41 L541.94 339.47 L543.59 339.61 L545.25 339.66 L546.91 339.64 L548.56 339.67 L550.22 339.62 L551.88 339.42 L553.53 339.49 L555.19 339.32 L556.84 339.29 L558.5 339.54 L560.16 339.41 L561.81 339.37 L563.47 339.36 L565.12 339.67 L566.78 339.6 L568.44 339.5 L570.09 339.79 L571.75 339.68 L573.41 339.92 L575.06 340.01 L576.72 340.14 L578.38 340.28 L580.03 340.12 L581.69 340.03 L583.34 339.61 L585 339.6 L586.66 339.43 L588.31 339.36 L589.97 339.02 L591.62 339.02 L593.28 339.04 L594.94 338.65 L596.59 338.47 L598.25 338.4 L599.91 338.41 L601.56 338.13 L603.22 337.89 L604.88 337.71 L606.53 337.7 L608.19 337.69 L609.84 337.49 L611.5 337.31 L613.16 337.16 L614.81 336.99 L616.47 336.88 L618.12 336.66 L619.78 336.67 L621.44 336.82 L623.09 336.66 L624.75 336.66 L626.41 336.39 L628.06 336.4 L629.72 336.4 L631.38 336.34 L633.03 336.2 L634.69 336.07 L636.34 336.02 L638 336.05 L639.66 335.74 L641.31 335.5 L642.97 335.58 L644.62 335.66 L646.28 335.51 L647.94 335.36 L649.59 335.34 L651.25 335.09 L652.91 334.93 L654.56 334.78 L656.22 334.84 L657.88 334.74 L659.53 334.62 L661.19 334.72 L662.84 334.85 L664.5 334.65 L666.16 334.67 L667.81 334.54 L669.47 334.61 L671.12 334.53 L672.78 334.33 L674.44 334.16 L676.09 333.96 L677.75 334 L679.41 333.96 L681.06 333.83 L682.72 333.81 L684.38 333.75 L686.03 333.88 L687.69 333.68 L689.34 333.87 L691 333.76 L692.66 333.72 L694.31 333.62 L695.97 333.68 L697.62 333.69 L699.28 333.57 L700.94 333.44 L702.59 333.44 L704.25 333.48 L705.91 333.37 L707.56 333.45 L709.22 333.6 L710.88 333.5 L712.53 333.36 L714.19 333.29 L715.84 333.44 L717.5 333.53 L719.16 333.71 L720.81 333.78 L722.47 333.59 L724.12 333.47 L725.78 333.43 L727.44 333.39 L729.09 333.58 L730.75 333.77 L732.41 333.91 L734.06 333.74 L735.72 333.9 L737.38 333.78 L739.03 333.76 L740.69 333.88 L742.34 333.71 L744 333.62 L745.66 333.87 L747.31 333.81 L748.97 333.82 L750.62 333.92 L752.28 334.02 L753.94 333.83 L755.59 333.85 L757.25 333.91 L758.91 333.98 L760.56 333.91 L762.22 334.03 L763.88 334.26 L765.53 334.18 L767.19 334.2 L768.84 334.05 L770.5 334.03 L772.16 334.18 L773.81 334.06 L775.47 334.31 L777.12 334.47 L778.78 334.25 L780.44 334.46 L782.09 334.37 L783.75 334.49 L785.41 334.56 L787.06 334.42 L788.72 334.5 L790.38 334.55 L792.03 334.64 L793.69 334.49 L795.34 334.61 L796 334.75 L796 361.98 L795.34 362.05 L793.69 362.19 L792.03 362.18 L790.38 362.19 L788.72 362.49 L787.06 362.41 L785.41 362.46 L783.75 362.4 L782.09 362.35 L780.44 362.36 L778.78 362.38 L777.12 362.25 L775.47 362.24 L773.81 362.37 L772.16 362.25 L770.5 362.07 L768.84 362.22 L767.19 362.07 L765.53 362.18 L763.88 362.15 L762.22 361.96 L760.56 362.12 L758.91 361.92 L757.25 361.95 L755.59 361.99 L753.94 361.79 L752.28 361.86 L750.62 361.93 L748.97 362.17 L747.31 362.38 L745.66 362.23 L744 362.21 L742.34 362.34 L740.69 362.16 L739.03 361.87 L737.38 361.9 L735.72 361.82 L734.06 361.91 L732.41 361.81 L730.75 361.97 L729.09 362.04 L727.44 362.1 L725.78 362.2 L724.12 361.98 L722.47 362.22 L720.81 361.9 L719.16 361.94 L717.5 362.04 L715.84 362.02 L714.19 362.17 L712.53 362.36 L710.88 362.39 L709.22 362.32 L707.56 362.14 L705.91 362.11 L704.25 362.17 L702.59 362.08 L700.94 362.37 L699.28 362.22 L697.62 362.35 L695.97 362.35 L694.31 362.23 L692.66 362.15 L691 362.3 L689.34 362.11 L687.69 362.42 L686.03 362.23 L684.38 362.22 L682.72 362.26 L681.06 362.19 L679.41 362.35 L677.75 362.15 L676.09 362.16 L674.44 362.23 L672.78 362.22 L671.12 362.34 L669.47 362.03 L667.81 361.87 L666.16 362.05 L664.5 362.11 L662.84 362.07 L661.19 362.06 L659.53 362.23 L657.88 362.54 L656.22 362.45 L654.56 362.35 L652.91 362.28 L651.25 362.38 L649.59 362.24 L647.94 362.03 L646.28 362.16 L644.62 361.88 L642.97 361.98 L641.31 362.2 L639.66 362.15 L638 362.28 L636.34 362.42 L634.69 362.38 L633.03 362.47 L631.38 362.39 L629.72 362.33 L628.06 362.08 L626.41 361.96 L624.75 362.15 L623.09 362.42 L621.44 362.12 L619.78 362.25 L618.12 362.25 L616.47 362.16 L614.81 362.26 L613.16 362.29 L611.5 362.19 L609.84 362.42 L608.19 362.23 L606.53 362.43 L604.88 362.44 L603.22 362.32 L601.56 362.57 L599.91 362.51 L598.25 362.36 L596.59 362.72 L594.94 362.66 L593.28 362.53 L591.62 362.57 L589.97 362.53 L588.31 362.28 L586.66 362.64 L585 362.57 L583.34 362.59 L581.69 362.42 L580.03 362.29 L578.38 362.27 L576.72 362.61 L575.06 362.67 L573.41 362.47 L571.75 362.39 L570.09 362.48 L568.44 362.44 L566.78 362.71 L565.12 362.64 L563.47 362.58 L561.81 362.58 L560.16 362.5 L558.5 362.72 L556.84 362.55 L555.19 362.66 L553.53 362.67 L551.88 362.48 L550.22 362.35 L548.56 362.38 L546.91 362.38 L545.25 362.34 L543.59 362.55 L541.94 362.32 L540.28 362.16 L538.62 362.38 L536.97 362.39 L535.31 362.66 L533.66 362.75 L532 362.72 L530.34 362.49 L528.69 362.6 L527.03 362.53 L525.38 362.62 L523.72 362.39 L522.06 362.55 L520.41 362.44 L518.75 362.41 L517.09 362.7 L515.44 362.65 L513.78 362.39 L512.12 362.3 L510.47 362.5 L508.81 362.49 L507.16 362.55 L505.5 362.45 L503.84 362.28 L502.19 362.36 L500.53 362.88 L498.88 364.69 L497.22 365.98 L495.56 365.73 L493.91 365.38 L492.25 365.49 L490.59 365.67 L488.94 365.69 L487.28 365.94 L485.62 365.65 L483.97 365.71 L482.31 366.01 L480.66 365.92 L479 365.97 L477.34 365.77 L475.69 365.63 L474.03 365.61 L472.38 365.71 L470.72 365.7 L469.06 365.89 L467.41 366.15 L465.75 366.14 L464.09 366.03 L462.44 365.97 L460.78 365.73 L459.12 365.74 L457.47 365.72 L455.81 365.89 L454.16 365.73 L452.5 365.75 L450.84 365.87 L449.19 365.95 L447.53 365.9 L445.88 365.78 L444.22 365.66 L442.56 366 L440.91 366 L439.25 365.78 L437.59 365.69 L435.94 365.36 L434.28 365.45 L432.62 365.56 L430.97 365.75 L429.31 365.84 L427.66 365.68 L426 365.67 L424.34 365.7 L422.69 365.61 L421.03 365.78 L419.38 365.59 L417.72 365.84 L416.06 365.53 L414.41 365.49 L412.75 365.49 L411.09 365.68 L409.44 365.56 L407.78 365.67 L406.12 365.63 L404.47 365.62 L402.81 365.57 L401.16 365.86 L399.5 365.79 L397.84 365.52 L396.19 365.54 L394.53 365.73 L392.88 365.56 L391.22 365.83 L389.56 365.99 L387.91 365.74 L386.25 365.92 L384.59 365.93 L382.94 365.7 L381.28 365.09 L379.62 363.85 L377.97 363.07 L376.31 363.19 L374.66 363.32 L373 363.25 L371.34 363.22 L369.69 363.48 L368.03 363.48 L366.38 363.53 L364.72 363.67 L363.06 363.67 L361.41 363.48 L359.75 363.21 L358.09 363.34 L356.44 363.2 L354.78 363.23 L353.12 363.17 L351.47 363.02 L349.81 363.02 L348.16 363.01 L346.5 363.04 L344.84 363.17 L343.19 363.25 L341.53 362.99 L339.88 363.08 L338.22 362.97 L336.56 363.1 L334.91 363.34 L333.25 363.31 L331.59 363.35 L329.94 363.55 L328.28 363.52 L326.62 363.39 L324.97 363.32 L323.31 363.24 L321.66 363.38 L320 363.46 L318.34 363.76 L316.69 363.64 L315.03 363.49 L313.38 363.19 L311.72 363.1 L310.06 362.85 L308.41 362.87 L306.75 362.85 L305.09 362.93 L303.44 363.05 L301.78 363.18 L300.12 363.04 L298.47 363.27 L296.81 363.32 L295.16 363.24 L293.5 363.4 L291.84 363.09 L290.19 363.25 L288.53 363.21 L286.88 363.25 L285.22 363.15 L283.56 363.37 L281.91 363.11 L280.25 363.05 L278.59 363.22 L276.94 363.34 L275.28 363.24 L273.62 363.45 L271.97 363.58 L270.31 363.62 L268.66 363.55 L267 363.53 L265.34 363.38 L263.69 363.25 L262.03 363.03 L260.38 362.91 L258.72 363.08 L257.06 363.09 L255.41 363.31 L253.75 363.14 L252.09 362.98 L250.44 362.93 L248.78 363.11 L247.12 363.31 L245.47 362.95 L243.81 363.14 L242.16 363.17 L240.5 362.97 L238.84 363.05 L237.19 363.22 L235.53 362.96 L233.88 362.98 L232.22 363.22 L230.56 363.03 L228.91 363.29 L227.25 362.96 L225.59 363.14 L223.94 362.94 L222.28 363.04 L220.62 363.04 L218.97 363.32 L217.31 363.21 L215.66 363.28 L214 363.02 L212.34 363.14 L210.69 363.32 L209.03 363.11 L207.38 363.03 L205.72 363.25 L204.06 362.98 L202.41 363.07 L200.75 363.17 L199.09 363.04 L197.44 363.32 L195.78 363.2 L194.12 363.48 L192.47 363.34 L190.81 363.26 L189.16 363.05 L187.5 363.32 L185.84 363.33 L184.19 363.07 L182.53 363 L180.88 363.14 L179.22 363.28 L177.56 363.29 L175.91 363.25 L174.25 363.3 L172.59 363.39 L170.94 363.38 L169.28 363.15 L167.62 363.32 L165.97 363.09 L164.31 363.25 L162.66 362.99 L161 363.16 L159.34 363.02 L157.69 363.09 L156.03 363.29 L154.38 363.41 L152.72 363.42 L151.06 363.26 L149.41 363.3 L147.75 363.46 L146.09 363.35 L144.44 363.19 L142.78 363.36 L141.12 363.25 L139.47 363.34 L137.81 363.15 L136.16 363.18 L134.5 363.21 L132.84 363.31 L131.19 363.27 L129.53 363.18 L127.88 363.52 L126.22 363.41 L124.56 363.23 L122.91 363.44 L121.25 363.43 L119.59 363.44 L117.94 363.34 L116.28 363.32 L114.62 363.23 L112.97 363.01 L111.31 363.23 L109.66 363.2 L108 362.87 L106.34 362.72 L104.69 362.8 L103.03 362.77 L101.38 362.96 L99.72 363.12 L98.06 363.11 L96.41 363.12 L94.75 362.84 L93.09 362.81 L91.44 362.79 L89.78 362.65 L88.12 362.78 L86.47 363 L84.81 363.16 L83.16 363.29 L81.5 363.42 L79.84 363.3 L78.19 363.07 L76.53 362.91 L74.88 362.92 L73.22 362.91 L71.56 363.11 L69.91 363.11 L68.25 363.07 L66.59 363.02 L64.94 363.18 L63.28 363.15 L61.62 363.05 L59.97 362.8 L58.31 363 L56.66 363.36 L55 363.23Z" fill="#d9dde5"/>
<path d="M55 363.23 L56.66 363.36 L58.31 363 L59.97 362.8 L61.62 363.05 L63.28 363.15 L64.94 363.18 L66.59 363.02 L68.25 363.07 L69.91 363.11 L71.56 363.11 L73.22 362.91 L74.88 362.92 L76.53 362.91 L78.19 363.07 L79.84 363.3 L81.5 363.42 L83.16 363.29 L84.81 363.16 L86.47 363 L88.12 362.78 L89.78 362.65 L91.44 362.79 L93.09 362.81 L94.75 362.84 L96.41 363.12 L98.06 363.11 L99.72 363.12 L101.38 362.96 L103.03 362.77 L104.69 362.8 L106.34 362.72 L108 362.87 L109.66 363.2 L111.31 363.23 L112.97 363.01 L114.62 363.23 L116.28 363.32 L117.94 363.34 L119.59 363.44 L121.25 363.43 L122.91 363.44 L124.56 363.23 L126.22 363.41 L127.88 363.52 L129.53 363.18 L131.19 363.27 L132.84 363.31 L134.5 363.21 L136.16 363.18 L137.81 363.15 L139.47 363.34 L141.12 363.25 L142.78 363.36 L144.44 363.19 L146.09 363.35 L147.75 363.46 L149.41 363.3 L151.06 363.26 L152.72 363.42 L154.38 363.41 L156.03 363.29 L157.69 363.09 L159.34 363.02 L161 363.16 L162.66 362.99 L164.31 363.25 L165.97 363.09 L167.62 363.32 L169.28 363.15 L170.94 363.38 L172.59 363.39 L174.25 363.3 L175.91 363.25 L177.56 363.29 L179.22 363.28 L180.88 363.14 L182.53 363 L184.19 363.07 L185.84 363.33 L187.5 363.32 L189.16 363.05 L190.81 363.26 L192.47 363.34 L194.12 363.48 L195.78 363.2 L197.44 363.32 L199.09 363.04 L200.75 363.17 L202.41 363.07 L204.06 362.98 L205.72 363.25 L207.38 363.03 L209.03 363.11 L210.69 363.32 L212.34 363.14 L214 363.02 L215.66 363.28 L217.31 363.21 L218.97 363.32 L220.62 363.04 L222.28 363.04 L223.94 362.94 L225.59 363.14 L227.25 362.96 L228.91 363.29 L230.56 363.03 L232.22 363.22 L233.88 362.98 L235.53 362.96 L237.19 363.22 L238.84 363.05 L240.5 362.97 L242.16 363.17 L243.81 363.14 L245.47 362.95 L247.12 363.31 L248.78 363.11 L250.44 362.93 L252.09 362.98 L253.75 363.14 L255.41 363.31 L257.06 363.09 L258.72 363.08 L260.38 362.91 L262.03 363.03 L263.69 363.25 L265.34 363.38 L267 363.53 L268.66 363.55 L270.31 363.62 L271.97 363.58 L273.62 363.45 L275.28 363.24 L276.94 363.34 L278.59 363.22 L280.25 363.05 L281.91 363.11 L283.56 363.37 L285.22 363.15 L286.88 363.25 L288.53 363.21 L290.19 363.25 L291.84 363.09 L293.5 363.4 L295.16 363.24 L296.81 363.32 L298.47 363.27 L300.12 363.04 L301.78 363.18 L303.44 363.05 L305.09 362.93 L306.75 362.85 L308.41 362.87 L310.06 362.85 L311.72 363.1 L313.38 363.19 L315.03 363.49 L316.69 363.64 L318.34 363.76 L320 363.46 L321.66 363.38 L323.31 363.24 L324.97 363.32 L326.62 363.39 L328.28 363.52 L329.94 363.55 L331.59 363.35 L333.25 363.31 L334.91 363.34 L336.56 363.1 L338.22 362.97 L339.88 363.08 L341.53 362.99 L343.19 363.25 L344.84 363.17 L346.5 363.04 L348.16 363.01 L349.81 363.02 L351.47 363.02 L353.12 363.17 L354.78 363.23 L356.44 363.2 L358.09 363.34 L359.75 363.21 L361.41 363.48 L363.06 363.67 L364.72 363.67 L366.38 363.53 L368.03 363.48 L369.69 363.48 L371.34 363.22 L373 363.25 L374.66 363.32 L376.31 363.19 L377.97 363.07 L379.62 363.85 L381.28 365.09 L382.94 365.7 L384.59 365.93 L386.25 365.92 L387.91 365.74 L389.56 365.99 L391.22 365.83 L392.88 365.56 L394.53 365.73 L396.19 365.54 L397.84 365.52 L399.5 365.79 L401.16 365.86 L402.81 365.57 L404.47 365.62 L406.12 365.63 L407.78 365.67 L409.44 365.56 L411.09 365.68 L412.75 365.49 L414.41 365.49 L416.06 365.53 L417.72 365.84 L419.38 365.59 L421.03 365.78 L422.69 365.61 L424.34 365.7 L426 365.67 L427.66 365.68 L429.31 365.84 L430.97 365.75 L432.62 365.56 L434.28 365.45 L435.94 365.36 L437.59 365.69 L439.25 365.78 L440.91 366 L442.56 366 L444.22 365.66 L445.88 365.78 L447.53 365.9 L449.19 365.95 L450.84 365.87 L452.5 365.75 L454.16 365.73 L455.81 365.89 L457.47 365.72 L459.12 365.74 L460.78 365.73 L462.44 365.97 L464.09 366.03 L465.75 366.14 L467.41 366.15 L469.06 365.89 L470.72 365.7 L472.38 365.71 L474.03 365.61 L475.69 365.63 L477.34 365.77 L479 365.97 L480.66 365.92 L482.31 366.01 L483.97 365.71 L485.62 365.65 L487.28 365.94 L488.94 365.69 L490.59 365.67 L492.25 365.49 L493.91 365.38 L495.56 365.73 L497.22 365.98 L498.88 364.69 L500.53 362.88 L502.19 362.36 L503.84 362.28 L505.5 362.45 L507.16 362.55 L508.81 362.49 L510.47 362.5 L512.12 362.3 L513.78 362.39 L515.44 362.65 L517.09 362.7 L518.75 362.41 L520.41 362.44 L522.06 362.55 L523.72 362.39 L525.38 362.62 L527.03 362.53 L528.69 362.6 L530.34 362.49 L532 362.72 L533.66 362.75 L535.31 362.66 L536.97 362.39 L538.62 362.38 L540.28 362.16 L541.94 362.32 L543.59 362.55 L545.25 362.34 L546.91 362.38 L548.56 362.38 L550.22 362.35 L551.88 362.48 L553.53 362.67 L555.19 362.66 L556.84 362.55 L558.5 362.72 L560.16 362.5 L561.81 362.58 L563.47 362.58 L565.12 362.64 L566.78 362.71 L568.44 362.44 L570.09 362.48 L571.75 362.39 L573.41 362.47 L575.06 362.67 L576.72 362.61 L578.38 362.27 L580.03 362.29 L581.69 362.42 L583.34 362.59 L585 362.57 L586.66 362.64 L588.31 362.28 L589.97 362.53 L591.62 362.57 L593.28 362.53 L594.94 362.66 L596.59 362.72 L598.25 362.36 L599.91 362.51 L601.56 362.57 L603.22 362.32 L604.88 362.44 L606.53 362.43 L608.19 362.23 L609.84 362.42 L611.5 362.19 L613.16 362.29 L614.81 362.26 L616.47 362.16 L618.12 362.25 L619.78 362.25 L621.44 362.12 L623.09 362.42 L624.75 362.15 L626.41 361.96 L628.06 362.08 L629.72 362.33 L631.38 362.39 L633.03 362.47 L634.69 362.38 L636.34 362.42 L638 362.28 L639.66 362.15 L641.31 362.2 L642.97 361.98 L644.62 361.88 L646.28 362.16 L647.94 362.03 L649.59 362.24 L651.25 362.38 L652.91 362.28 L654.56 362.35 L656.22 362.45 L657.88 362.54 L659.53 362.23 L661.19 362.06 L662.84 362.07 L664.5 362.11 L666.16 362.05 L667.81 361.87 L669.47 362.03 L671.12 362.34 L672.78 362.22 L674.44 362.23 L676.09 362.16 L677.75 362.15 L679.41 362.35 L681.06 362.19 L682.72 362.26 L684.38 362.22 L686.03 362.23 L687.69 362.42 L689.34 362.11 L691 362.3 L692.66 362.15 L694.31 362.23 L695.97 362.35 L697.62 362.35 L699.28 362.22 L700.94 362.37 L702.59 362.08 L704.25 362.17 L705.91 362.11 L707.56 362.14 L709.22 362.32 L710.88 362.39 L712.53 362.36 L714.19 362.17 L715.84 362.02 L717.5 362.04 L719.16 361.94 L720.81 361.9 L722.47 362.22 L724.12 361.98 L725.78 362.2 L727.44 362.1 L729.09 362.04 L730.75 361.97 L732.41 361.81 L734.06 361.91 L735.72 361.82 L737.38 361.9 L739.03 361.87 L740.69 362.16 L742.34 362.34 L744 362.21 L745.66 362.23 L747.31 362.38 L748.97 362.17 L750.62 361.93 L752.28 361.86 L753.94 361.79 L755.59 361.99 L757.25 361.95 L758.91 361.92 L760.56 362.12 L762.22 361.96 L763.88 362.15 L765.53 362.18 L767.19 362.07 L768.84 362.22 L770.5 362.07 L772.16 362.25 L773.81 362.37 L775.47 362.24 L777.12 362.25 L778.78 362.38 L780.44 362.36 L782.09 362.35 L783.75 362.4 L785.41 362.46 L787.06 362.41 L788.72 362.49 L790.38 362.19 L792.03 362.18 L793.69 362.19 L795.34 362.05 L796 361.98 L796 395 L795.34 395 L793.69 395 L792.03 395 L790.38 395 L788.72 395 L787.06 395 L785.41 395 L783.75 395 L782.09 395 L780.44 395 L778.78 395 L777.12 395 L775.47 395 L773.81 395 L772.16 395 L770.5 395 L768.84 395 L767.19 395 L765.53 395 L763.88 395 L762.22 395 L760.56 395 L758.91 395 L757.25 395 L755.59 395 L753.94 395 L752.28 395 L750.62 395 L748.97 395 L747.31 395 L745.66 395 L744 395 L742.34 395 L740.69 395 L739.03 395 L737.38 395 L735.72 395 L734.06 395 L732.41 395 L730.75 395 L729.09 395 L727.44 395 L725.78 395 L724.12 395 L722.47 395 L720.81 395 L719.16 395 L717.5 395 L715.84 395 L714.19 395 L712.53 395 L710.88 395 L709.22 395 L707.56 395 L705.91 395 L704.25 395 L702.59 395 L700.94 395 L699.28 395 L697.62 395 L695.97 395 L694.31 395 L692.66 395 L691 395 L689.34 395 L687.69 395 L686.03 395 L684.38 395 L682.72 395 L681.06 395 L679.41 395 L677.75 395 L676.09 395 L674.44 395 L672.78 395 L671.12 395 L669.47 395 L667.81 395 L666.16 395 L664.5 395 L662.84 395 L661.19 395 L659.53 395 L657.88 395 L656.22 395 L654.56 395 L652.91 395 L651.25 395 L649.59 395 L647.94 395 L646.28 395 L644.62 395 L642.97 395 L641.31 395 L639.66 395 L638 395 L636.34 395 L634.69 395 L633.03 395 L631.38 395 L629.72 395 L628.06 395 L626.41 395 L624.75 395 L623.09 395 L621.44 395 L619.78 395 L618.12 395 L616.47 395 L614.81 395 L613.16 395 L611.5 395 L609.84 395 L608.19 395 L606.53 395 L604.88 395 L603.22 395 L601.56 395 L599.91 395 L598.25 395 L596.59 395 L594.94 395 L593.28 395 L591.62 395 L589.97 395 L588.31 395 L586.66 395 L585 395 L583.34 395 L581.69 395 L580.03 395 L578.38 395 L576.72 395 L575.06 395 L573.41 395 L571.75 395 L570.09 395 L568.44 395 L566.78 395 L565.12 395 L563.47 395 L561.81 395 L560.16 395 L558.5 395 L556.84 395 L555.19 395 L553.53 395 L551.88 395 L550.22 395 L548.56 395 L546.91 395 L545.25 395 L543.59 395 L541.94 395 L540.28 395 L538.62 395 L536.97 395 L535.31 395 L533.66 395 L532 395 L530.34 395 L528.69 395 L527.03 395 L525.38 395 L523.72 395 L522.06 395 L520.41 395 L518.75 395 L517.09 395 L515.44 395 L513.78 395 L512.12 395 L510.47 395 L508.81 395 L507.16 395 L505.5 395 L503.84 395 L502.19 395 L500.53 395 L498.88 395 L497.22 395 L495.56 395 L493.91 395 L492.25 395 L490.59 395 L488.94 395 L487.28 395 L485.62 395 L483.97 395 L482.31 395 L480.66 395 L479 395 L477.34 395 L475.69 395 L474.03 395 L472.38 395 L470.72 395 L469.06 395 L467.41 395 L465.75 395 L464.09 395 L462.44 395 L460.78 395 L459.12 395 L457.47 395 L455.81 395 L454.16 395 L452.5 395 L450.84 395 L449.19 395 L447.53 395 L445.88 395 L444.22 395 L442.56 395 L440.91 395 L439.25 395 L437.59 395 L435.94 395 L434.28 395 L432.62 395 L430.97 395 L429.31 395 L427.66 395 L426 395 L424.34 395 L422.69 395 L421.03 395 L419.38 395 L417.72 395 L416.06 395 L414.41 395 L412.75 395 L411.09 395 L409.44 395 L407.78 395 L406.12 395 L404.47 395 L402.81 395 L401.16 395 L399.5 395 L397.84 395 L396.19 395 L394.53 395 L392.88 395 L391.22 395 L389.56 395 L387.91 395 L386.25 395 L384.59 395 L382.94 395 L381.28 395 L379.62 395 L377.97 395 L376.31 395 L374.66 395 L373 395 L371.34 395 L369.69 395 L368.03 395 L366.38 395 L364.72 395 L363.06 395 L361.41 395 L359.75 395 L358.09 395 L356.44 395 L354.78 395 L353.12 395 L351.47 395 L349.81 395 L348.16 395 L346.5 395 L344.84 395 L343.19 395 L341.53 395 L339.88 395 L338.22 395 L336.56 395 L334.91 395 L333.25 395 L331.59 395 L329.94 395 L328.28 395 L326.62 395 L324.97 395 L323.31 395 L321.66 395 L320 395 L318.34 395 L316.69 395 L315.03 395 L313.38 395 L311.72 395 L310.06 395 L308.41 395 L306.75 395 L305.09 395 L303.44 395 L301.78 395 L300.12 395 L298.47 395 L296.81 395 L295.16 395 L293.5 395 L291.84 395 L290.19 395 L288.53 395 L286.88 395 L285.22 395 L283.56 395 L281.91 395 L280.25 395 L278.59 395 L276.94 395 L275.28 395 L273.62 395 L271.97 395 L270.31 395 L268.66 395 L267 395 L265.34 395 L263.69 395 L262.03 395 L260.38 395 L258.72 395 L257.06 395 L255.41 395 L253.75 395 L252.09 395 L250.44 395 L248.78 395 L247.12 395 L245.47 395 L243.81 395 L242.16 395 L240.5 395 L238.84 395 L237.19 395 L235.53 395 L233.88 395 L232.22 395 L230.56 395 L228.91 395 L227.25 395 L225.59 395 L223.94 395 L222.28 395 L220.62 395 L218.97 395 L217.31 395 L215.66 395 L214 395 L212.34 395 L210.69 395 L209.03 395 L207.38 395 L205.72 395 L204.06 395 L202.41 395 L200.75 395 L199.09 395 L197.44 395 L195.78 395 L194.12 395 L192.47 395 L190.81 395 L189.16 395 L187.5 395 L185.84 395 L184.19 395 L182.53 395 L180.88 395 L179.22 395 L177.56 395 L175.91 395 L174.25 395 L172.59 395 L170.94 395 L169.28 395 L167.62 395 L165.97 395 L164.31 395 L162.66 395 L161 395 L159.34 395 L157.69 395 L156.03 395 L154.38 395 L152.72 395 L151.06 395 L149.41 395 L147.75 395 L146.09 395 L144.44 395 L142.78 395 L141.12 395 L139.47 395 L137.81 395 L136.16 395 L134.5 395 L132.84 395 L131.19 395 L129.53 395 L127.88 395 L126.22 395 L124.56 395 L122.91 395 L121.25 395 L119.59 395 L117.94 395 L116.28 395 L114.62 395 L112.97 395 L111.31 395 L109.66 395 L108 395 L106.34 395 L104.69 395 L103.03 395 L101.38 395 L99.72 395 L98.06 395 L96.41 395 L94.75 395 L93.09 395 L91.44 395 L89.78 395 L88.12 395 L86.47 395 L84.81 395 L83.16 395 L81.5 395 L79.84 395 L78.19 395 L76.53 395 L74.88 395 L73.22 395 L71.56 395 L69.91 395 L68.25 395 L66.59 395 L64.94 395 L63.28 395 L61.62 395 L59.97 395 L58.31 395 L56.66 395 L55 395Z" fill="#72808c"/>
<path d="M55 395 L56.66 395 L58.31 395 L59.97 395 L61.62 395 L63.28 395 L64.94 395 L66.59 395 L68.25 395 L69.91 395 L71.56 395 L73.22 395 L74.88 395 L76.53 395 L78.19 395 L79.84 395 L81.5 395 L83.16 395 L84.81 395 L86.47 395 L88.12 395 L89.78 395 L91.44 395 L93.09 395 L94.75 395 L96.41 395 L98.06 395 L99.72 395 L101.38 395 L103.03 395 L104.69 395 L106.34 395 L108 395 L109.66 395 L111.31 395 L112.97 395 L114.62 395 L116.28 395 L117.94 395 L119.59 395 L121.25 395 L122.91 395 L124.56 395 L126.22 395 L127.88 395 L129.53 395 L131.19 395 L132.84 395 L134.5 395 L136.16 395 L137.81 395 L139.47 395 L141.12 395 L142.78 395 L144.44 395 L146.09 395 L147.75 395 L149.41 395 L151.06 395 L152.72 395 L154.38 395 L156.03 395 L157.69 395 L159.34 395 L161 395 L162.66 395 L164.31 395 L165.97 395 L167.62 395 L169.28 395 L170.94 395 L172.59 395 L174.25 395 L175.91 395 L177.56 395 L179.22 395 L180.88 395 L182.53 395 L184.19 395 L185.84 395 L187.5 395 L189.16 395 L190.81 395 L192.47 395 L194.12 395 L195.78 395 L197.44 395 L199.09 395 L200.75 395 L202.41 395 L204.06 395 L205.72 395 L207.38 395 L209.03 395 L210.69 395 L212.34 395 L214 395 L215.66 395 L217.31 395 L218.97 395 L220.62 395 L222.28 395 L223.94 395 L225.59 395 L227.25 395 L228.91 395 L230.56 395 L232.22 395 L233.88 395 L235.53 395 L237.19 395 L238.84 395 L240.5 395 L242.16 395 L243.81 395 L245.47 395 L247.12 395 L248.78 395 L250.44 395 L252.09 395 L253.75 395 L255.41 395 L257.06 395 L258.72 395 L260.38 395 L262.03 395 L263.69 395 L265.34 395 L267 395 L268.66 395 L270.31 395 L271.97 395 L273.62 395 L275.28 395 L276.94 395 L278.59 395 L280.25 395 L281.91 395 L283.56 395 L285.22 395 L286.88 395 L288.53 395 L290.19 395 L291.84 395 L293.5 395 L295.16 395 L296.81 395 L298.47 395 L300.12 395 L301.78 395 L303.44 395 L305.09 395 L306.75 395 L308.41 395 L310.06 395 L311.72 395 L313.38 395 L315.03 395 L316.69 395 L318.34 395 L320 395 L321.66 395 L323.31 395 L324.97 395 L326.62 395 L328.28 395 L329.94 395 L331.59 395 L333.25 395 L334.91 395 L336.56 395 L338.22 395 L339.88 395 L341.53 395 L343.19 395 L344.84 395 L346.5 395 L348.16 395 L349.81 395 L351.47 395 L353.12 395 L354.78 395 L356.44 395 L358.09 395 L359.75 395 L361.41 395 L363.06 395 L364.72 395 L366.38 395 L368.03 395 L369.69 395 L371.34 395 L373 395 L374.66 395 L376.31 395 L377.97 395 L379.62 395 L381.28 395 L382.94 395 L384.59 395 L386.25 395 L387.91 395 L389.56 395 L391.22 395 L392.88 395 L394.53 395 L396.19 395 L397.84 395 L399.5 395 L401.16 395 L402.81 395 L404.47 395 L406.12 395 L407.78 395 L409.44 395 L411.09 395 L412.75 395 L414.41 395 L416.06 395 L417.72 395 L419.38 395 L421.03 395 L422.69 395 L424.34 395 L426 395 L427.66 395 L429.31 395 L430.97 395 L432.62 395 L434.28 395 L435.94 395 L437.59 395 L439.25 395 L440.91 395 L442.56 395 L444.22 395 L445.88 395 L447.53 395 L449.19 395 L450.84 395 L452.5 395 L454.16 395 L455.81 395 L457.47 395 L459.12 395 L460.78 395 L462.44 395 L464.09 395 L465.75 395 L467.41 395 L469.06 395 L470.72 395 L472.38 395 L474.03 395 L475.69 395 L477.34 395 L479 395 L480.66 395 L482.31 395 L483.97 395 L485.62 395 L487.28 395 L488.94 395 L490.59 395 L492.25 395 L493.91 395 L495.56 395 L497.22 395 L498.88 395 L500.53 395 L502.19 395 L503.84 395 L505.5 395 L507.16 395 L508.81 395 L510.47 395 L512.12 395 L513.78 395 L515.44 395 L517.09 395 L518.75 395 L520.41 395 L522.06 395 L523.72 395 L525.38 395 L527.03 395 L528.69 395 L530.34 395 L532 395 L533.66 395 L535.31 395 L536.97 395 L538.62 395 L540.28 395 L541.94 395 L543.59 395 L545.25 395 L546.91 395 L548.56 395 L550.22 395 L551.88 395 L553.53 395 L555.19 395 L556.84 395 L558.5 395 L560.16 395 L561.81 395 L563.47 395 L565.12 395 L566.78 395 L568.44 395 L570.09 395 L571.75 395 L573.41 395 L575.06 395 L576.72 395 L578.38 395 L580.03 395 L581.69 395 L583.34 395 L585 395 L586.66 395 L588.31 395 L589.97 395 L591.62 395 L593.28 395 L594.94 395 L596.59 395 L598.25 395 L599.91 395 L601.56 395 L603.22 395 L604.88 395 L606.53 395 L608.19 395 L609.84 395 L611.5 395 L613.16 395 L614.81 395 L616.47 395 L618.12 395 L619.78 395 L621.44 395 L623.09 395 L624.75 395 L626.41 395 L628.06 395 L629.72 395 L631.38 395 L633.03 395 L634.69 395 L636.34 395 L638 395 L639.66 395 L641.31 395 L642.97 395 L644.62 395 L646.28 395 L647.94 395 L649.59 395 L651.25 395 L652.91 395 L654.56 395 L656.22 395 L657.88 395 L659.53 395 L661.19 395 L662.84 395 L664.5 395 L666.16 395 L667.81 395 L669.47 395 L671.12 395 L672.78 395 L674.44 395 L676.09 395 L677.75 395 L679.41 395 L681.06 395 L682.72 395 L684.38 395 L686.03 395 L687.69 395 L689.34 395 L691 395 L692.66 395 L694.31 395 L695.97 395 L697.62 395 L699.28 395 L700.94 395 L702.59 395 L704.25 395 L705.91 395 L707.56 395 L709.22 395 L710.88 395 L712.53 395 L714.19 395 L715.84 395 L717.5 395 L719.16 395 L720.81 395 L722.47 395 L724.12 395 L725.78 395 L727.44 395 L729.09 395 L730.75 395 L732.41 395 L734.06 395 L735.72 395 L737.38 395 L739.03 395 L740.69 395 L742.34 395 L744 395 L745.66 395 L747.31 395 L748.97 395 L750.62 395 L752.28 395 L753.94 395 L755.59 395 L757.25 395 L758.91 395 L760.56 395 L762.22 395 L763.88 395 L765.53 395 L767.19 395 L768.84 395 L770.5 395 L772.16 395 L773.81 395 L775.47 395 L777.12 395 L778.78 395 L780.44 395 L782.09 395 L783.75 395 L785.41 395 L787.06 395 L788.72 395 L790.38 395 L792.03 395 L793.69 395 L795.34 395 L796 395 L796 444.5 L55 444.5Z" fill="#d8c832"/>
<path d="M799.5 276.1 L814.75 276 L816.2 279.25 L847.3 279.25 L849.5 297.25 L880.8 297.25 L882.6 304.25 L913.6 304.25 L915.6 307.25 L947.5 307.25 L947.5 444.5 L799.5 444.5Z" fill="#b5bdc9"/>
<rect x="798" y="128.5" width="1" height="80.5" fill="url(#ng)"/>
<rect x="796" y="210" width="3.5" height="234.5" fill="#ffffff"/>
<path d="M55 195.75 L86.2 195.75 L87.7 179 L119.33 179 L120.83 200.5 L152.45 200.5 L153.95 205.5 L185.57 205.5 L187.07 204 L218.7 204 L220.2 210 L251.82 210 L253.32 212 L284.95 212 L286.45 206.75 L318.07 206.75 L319.57 201 L351.2 201 L352.7 170 L384.32 170 L385.82 171 L417.45 171 L418.95 173.75 L450.57 173.75 L452.07 177.75 L483.7 177.75 L485.2 193.25 L516.83 193.25 L518.33 227.75 L549.95 227.75 L551.45 244.5 L583.08 244.5 L584.58 241.75 L616.2 241.75 L617.7 211 L649.33 211 L650.83 177 L682.45 177 L683.95 124 L715.58 124 L717.08 118.25 L748.7 118.25 L750.2 166.5 L781.83 166.5 L783.33 167.5 L814.95 167.5 L816.45 169 L848.08 169 L849.58 222.5 L881.2 222.5 L882.7 222.5 L914.33 222.5 L915.83 222.5 L947.5 222.5" stroke="#404f5c" stroke-width="1.7" fill="none" stroke-linejoin="round"/>
<path d="M55 227.97 L56.66 228.17 L58.31 227.64 L59.97 226.89 L61.62 226.73 L63.28 227.94 L64.94 228.61 L66.59 229.71 L68.25 230 L69.91 231.05 L71.56 231.13 L73.22 232.26 L74.88 233.07 L76.53 233.28 L78.19 233.85 L79.84 234.66 L81.5 234.6 L83.16 235.38 L84.81 236.48 L86.47 236.52 L88.12 237.64 L89.78 238.33 L91.44 239.22 L93.09 239.17 L94.75 238.97 L96.41 240.21 L98.06 241.19 L99.72 241.43 L101.38 241.02 L103.03 241.04 L104.69 241.87 L106.34 241.94 L108 243.17 L109.66 243.44 L111.31 243.11 L112.97 243.76 L114.62 243.81 L116.28 244.87 L117.94 245.51 L119.59 245.13 L121.25 245.11 L122.91 245.18 L124.56 245.4 L126.22 245.8 L127.88 244.53 L129.53 244.29 L131.19 244.54 L132.84 244.32 L134.5 244.78 L136.16 244.34 L137.81 245.43 L139.47 245.6 L141.12 245.12 L142.78 245.8 L144.44 245.72 L146.09 245.58 L147.75 246.03 L149.41 245.83 L151.06 245.86 L152.72 246.95 L154.38 247.38 L156.03 246.59 L157.69 247.39 L159.34 246.7 L161 246.84 L162.66 247.88 L164.31 248.1 L165.97 247.78 L167.62 247.71 L169.28 247.31 L170.94 246.51 L172.59 247.3 L174.25 246.13 L175.91 245.88 L177.56 246.12 L179.22 245.57 L180.88 246.04 L182.53 245.02 L184.19 245.44 L185.84 245.6 L187.5 245.43 L189.16 245.68 L190.81 245.12 L192.47 245.4 L194.12 245.52 L195.78 245.14 L197.44 244.84 L199.09 245.03 L200.75 244.67 L202.41 243.94 L204.06 244.56 L205.72 244.2 L207.38 244.4 L209.03 245.02 L210.69 244.45 L212.34 243.9 L214 243.77 L215.66 244.3 L217.31 243.98 L218.97 243.48 L220.62 243.36 L222.28 243.92 L223.94 243.05 L225.59 242.74 L227.25 243.4 L228.91 243.36 L230.56 242.76 L232.22 242.72 L233.88 242.68 L235.53 242.11 L237.19 242.12 L238.84 242 L240.5 242.71 L242.16 242.35 L243.81 242.65 L245.47 243.17 L247.12 242.96 L248.78 241.74 L250.44 241.16 L252.09 240.13 L253.75 239.42 L255.41 238.91 L257.06 238.88 L258.72 238.86 L260.38 237.8 L262.03 237.25 L263.69 237.76 L265.34 237.58 L267 237.55 L268.66 238.86 L270.31 238.72 L271.97 239.74 L273.62 239.91 L275.28 241.08 L276.94 241.81 L278.59 241.14 L280.25 241.1 L281.91 242.43 L283.56 242.84 L285.22 242.94 L286.88 243.05 L288.53 242.45 L290.19 241.22 L291.84 240.09 L293.5 238.92 L295.16 238.77 L296.81 238.28 L298.47 238.7 L300.12 238.87 L301.78 238.18 L303.44 238.45 L305.09 237.68 L306.75 237.16 L308.41 237.64 L310.06 237.56 L311.72 238.14 L313.38 237.99 L315.03 237.94 L316.69 236.91 L318.34 237.29 L320 235.96 L321.66 235.82 L323.31 236.01 L324.97 235.91 L326.62 235.63 L328.28 234.55 L329.94 234.09 L331.59 233.77 L333.25 232.33 L334.91 232.59 L336.56 232.59 L338.22 231.69 L339.88 231.54 L341.53 230.77 L343.19 229.88 L344.84 229.9 L346.5 228.72 L348.16 229.03 L349.81 229.36 L351.47 228.29 L353.12 228.41 L354.78 226.82 L356.44 226.88 L358.09 225.75 L359.75 225.93 L361.41 224.95 L363.06 224.91 L364.72 223.23 L366.38 222.06 L368.03 222.3 L369.69 221.94 L371.34 221.53 L373 220.33 L374.66 219.69 L376.31 219.47 L377.97 218.68 L379.62 219.59 L381.28 220.05 L382.94 220.64 L384.59 220.63 L386.25 220.07 L387.91 219.34 L389.56 219.98 L391.22 219.4 L392.88 219.36 L394.53 218.71 L396.19 218.08 L397.84 216.75 L399.5 215.67 L401.16 215.46 L402.81 214.57 L404.47 214.98 L406.12 214.6 L407.78 214.54 L409.44 214.27 L411.09 214.74 L412.75 214.7 L414.41 214.38 L416.06 214.15 L417.72 214.39 L419.38 214.8 L421.03 214.1 L422.69 213.1 L424.34 212.59 L426 211.99 L427.66 211.95 L429.31 212 L430.97 211.47 L432.62 210.33 L434.28 209.65 L435.94 209.11 L437.59 208.78 L439.25 208.52 L440.91 209.22 L442.56 208.83 L444.22 208.68 L445.88 208.57 L447.53 208.29 L449.19 208.28 L450.84 207.49 L452.5 207.31 L454.16 207.42 L455.81 206.01 L457.47 205.72 L459.12 204.97 L460.78 203.82 L462.44 202.91 L464.09 203.33 L465.75 202.74 L467.41 203.42 L469.06 202.87 L470.72 202.98 L472.38 202.52 L474.03 203.08 L475.69 203.81 L477.34 203.28 L479 203.14 L480.66 203.47 L482.31 202.5 L483.97 202.05 L485.62 202.02 L487.28 202.07 L488.94 200.83 L490.59 200.84 L492.25 199.93 L493.91 199.29 L495.56 200.22 L497.22 199.2 L498.88 205.4 L500.53 209.13 L502.19 210.83 L503.84 212.59 L505.5 213.24 L507.16 212.71 L508.81 212.67 L510.47 212.29 L512.12 213.15 L513.78 213.57 L515.44 213.76 L517.09 212.86 L518.75 212.89 L520.41 212.32 L522.06 212.81 L523.72 213.5 L525.38 214.48 L527.03 214.77 L528.69 215.07 L530.34 215.57 L532 214.94 L533.66 215.03 L535.31 214.16 L536.97 214.13 L538.62 213.68 L540.28 214.71 L541.94 213.82 L543.59 214.43 L545.25 214.7 L546.91 213.9 L548.56 213.92 L550.22 212.54 L551.88 211.72 L553.53 210.88 L555.19 210.53 L556.84 210.23 L558.5 211.35 L560.16 210.8 L561.81 211.26 L563.47 210.99 L565.12 210.58 L566.78 210.69 L568.44 210.22 L570.09 211.12 L571.75 210.62 L573.41 210.55 L575.06 210.37 L576.72 210.27 L578.38 209.88 L580.03 209.24 L581.69 209.55 L583.34 211.25 L585 211.47 L586.66 212.33 L588.31 213.73 L589.97 213.94 L591.62 214.34 L593.28 214.29 L594.94 213.7 L596.59 212.64 L598.25 212.69 L599.91 212.44 L601.56 212.84 L603.22 212.48 L604.88 212.37 L606.53 212.32 L608.19 211.61 L609.84 211.65 L611.5 211.63 L613.16 210.29 L614.81 210.58 L616.47 210.54 L618.12 211.06 L619.78 210.69 L621.44 210.49 L623.09 210.32 L624.75 210.75 L626.41 211.93 L628.06 211.34 L629.72 210.26 L631.38 209.95 L633.03 209.28 L634.69 209.61 L636.34 209.91 L638 210.21 L639.66 208.94 L641.31 208.55 L642.97 207.8 L644.62 208.5 L646.28 208.69 L647.94 208.59 L649.59 209.35 L651.25 209.19 L652.91 209.58 L654.56 209.44 L656.22 209.23 L657.88 210.19 L659.53 210.47 L661.19 209.98 L662.84 210.04 L664.5 209.64 L666.16 209.54 L667.81 208.23 L669.47 207.46 L671.12 206.87 L672.78 207.22 L674.44 207.53 L676.09 206.74 L677.75 206.74 L679.41 206.03 L681.06 206.44 L682.72 206.75 L684.38 205.76 L686.03 206.57 L687.69 206.5 L689.34 205.54 L691 205.27 L692.66 204.74 L694.31 205.28 L695.97 205.86 L697.62 204.96 L699.28 204.38 L700.94 204.68 L702.59 205.18 L704.25 205.23 L705.91 204.76 L707.56 203.86 L709.22 204.08 L710.88 203.9 L712.53 204.29 L714.19 204.08 L715.84 204.02 L717.5 204.25 L719.16 203.72 L720.81 203.74 L722.47 202.61 L724.12 201.41 L725.78 202.33 L727.44 201.54 L729.09 202.64 L730.75 202.46 L732.41 201.75 L734.06 201.69 L735.72 202.39 L737.38 202.38 L739.03 202.88 L740.69 202.42 L742.34 203.41 L744 203.34 L745.66 204.12 L747.31 204 L748.97 205.45 L750.62 206.44 L752.28 207.09 L753.94 206.87 L755.59 207.76 L757.25 208.99 L758.91 208.75 L760.56 209.35 L762.22 209.43 L763.88 211.61 L765.53 213.28 L767.19 214.22 L768.84 214.86 L770.5 214.98 L772.16 215.54 L773.81 217.2 L775.47 217.86 L777.12 218.5 L778.78 218.68 L780.44 218.11 L782.09 217.47 L783.75 216.05 L785.41 213.45 L787.06 212.76 L788.72 212.55 L790.38 211.39 L792.03 211.2 L793.69 210.32 L795.34 209.07 L796 209.54" stroke="#633a57" stroke-width="1.5" fill="none" stroke-linejoin="round"/>
<path d="M796 209.3 L814.9 209.5 L816.6 215.75 L847.6 215.75 L849.6 227.5 L880.8 227.5 L882.8 235 L913.8 235 L915.8 238.75 L947.5 238.75" stroke="#633a57" stroke-width="1.8" fill="none" stroke-linejoin="round"/>
<path d="M49 119.0H55.0V449" stroke="#8994a0" stroke-width="1.3" fill="none"/>
<path d="M49.3 444.5H54.4M49.3 416.23H54.4M49.3 387.95H54.4M49.3 359.68H54.4M49.3 331.41H54.4M49.3 303.13H54.4M49.3 274.86H54.4M49.3 246.59H54.4M49.3 218.32H54.4M49.3 190.04H54.4M49.3 161.77H54.4M49.3 133.5H54.4" stroke="#59636d" stroke-width="1.1" fill="none"/>
<path d="M952 119.0H947.5V449M947.5 444.5H952M947.5 417.8H952M947.5 391.09H952M947.5 364.39H952M947.5 337.68H952M947.5 310.98H952M947.5 284.28H952M947.5 257.57H952M947.5 230.87H952M947.5 204.16H952M947.5 177.46H952M947.5 150.76H952M947.5 124.05H952" stroke="#52606c" stroke-width="1.15" fill="none"/>
<path d="M55.0 444.5H947.5M87.5 444.5V449M153.75 444.5V449M220 444.5V449M286.25 444.5V449M352.5 444.5V449M418.75 444.5V449M485 444.5V449M551.25 444.5V449M617.5 444.5V449M683.75 444.5V449M750 444.5V449M816.25 444.5V449M882.5 444.5V449" stroke="#2b3640" stroke-width="1" fill="none"/>
<g font-family="Liberation Sans, sans-serif" font-size="11.3" fill="#5e6a77">
<text x="47" y="448.6" text-anchor="end" letter-spacing="-0.15">0</text>
<text x="47" y="420.33" text-anchor="end" letter-spacing="-0.15">1,000</text>
<text x="47" y="392.05" text-anchor="end" letter-spacing="-0.15">2,000</text>
<text x="47" y="363.78" text-anchor="end" letter-spacing="-0.15">3,000</text>
<text x="47" y="335.51" text-anchor="end" letter-spacing="-0.15">4,000</text>
<text x="47" y="307.24" text-anchor="end" letter-spacing="-0.15">5,000</text>
<text x="47" y="278.96" text-anchor="end" letter-spacing="-0.15">6,000</text>
<text x="47" y="250.69" text-anchor="end" letter-spacing="-0.15">7,000</text>
<text x="47" y="222.42" text-anchor="end" letter-spacing="-0.15">8,000</text>
<text x="47" y="194.14" text-anchor="end" letter-spacing="-0.15">9,000</text>
<text x="47" y="165.87" text-anchor="end" letter-spacing="-0.15">10,000</text>
<text x="47" y="137.6" text-anchor="end" letter-spacing="-0.15">11,000</text>
<text x="954.6" y="448.7" letter-spacing="-0.15">0</text>
<text x="954.6" y="422" letter-spacing="-0.15">10</text>
<text x="954.6" y="395.29" letter-spacing="-0.15">20</text>
<text x="954.6" y="368.59" letter-spacing="-0.15">30</text>
<text x="954.6" y="341.88" letter-spacing="-0.15">40</text>
<text x="954.6" y="315.18" letter-spacing="-0.15">50</text>
<text x="954.6" y="288.48" letter-spacing="-0.15">60</text>
<text x="954.6" y="261.77" letter-spacing="-0.15">70</text>
<text x="954.6" y="235.07" letter-spacing="-0.15">80</text>
<text x="954.6" y="208.36" letter-spacing="-0.15">90</text>
<text x="954.6" y="181.66" letter-spacing="-0.15">100</text>
<text x="954.6" y="154.96" letter-spacing="-0.15">110</text>
<text x="954.6" y="128.25" letter-spacing="-0.15">120</text>
<text x="87.75" y="460.2" text-anchor="middle" letter-spacing="0.5">22:00</text>
<text x="154" y="460.2" text-anchor="middle" letter-spacing="0.5">00:00</text>
<text x="220.25" y="460.2" text-anchor="middle" letter-spacing="0.5">02:00</text>
<text x="286.5" y="460.2" text-anchor="middle" letter-spacing="0.5">04:00</text>
<text x="352.75" y="460.2" text-anchor="middle" letter-spacing="0.5">06:00</text>
<text x="419" y="460.2" text-anchor="middle" letter-spacing="0.5">08:00</text>
<text x="485.25" y="460.2" text-anchor="middle" letter-spacing="0.5">10:00</text>
<text x="551.5" y="460.2" text-anchor="middle" letter-spacing="0.5">12:00</text>
<text x="617.75" y="460.2" text-anchor="middle" letter-spacing="0.5">14:00</text>
<text x="684" y="460.2" text-anchor="middle" letter-spacing="0.5">16:00</text>
<text x="750.25" y="460.2" text-anchor="middle" letter-spacing="0.5">18:00</text>
<text x="816.5" y="460.2" text-anchor="middle" letter-spacing="0.5">20:00</text>
<text x="882.75" y="460.2" text-anchor="middle" letter-spacing="0.5">22:00</text>
</g>
<g font-family="Liberation Sans, sans-serif" font-size="8" fill="#5d6a77">
<text x="47.5" y="106">MW</text>
<text x="963" y="106" text-anchor="end">€ / MWh</text>
</g>
</svg></div>
</div>
<div class="cardwrap">
<div class="cards"></div>
<div class="card" style="left:0px;top:493px;width:197px;height:95.4px"><div class="lb" style="left:16.75px;top:25.70px;letter-spacing:-0.469px">Ydinvoima</div><div class="nm" style="left:15.67px;top:41.50px;transform:scaleX(1.0763)">1 755</div><div class="un" style="left:86.75px;top:51.45px;letter-spacing:0.750px">MW</div><div class="ic" style="left:157.75px;top:38.00px"><span class="ck" style="background:#d8c832"><svg viewBox="0.3 0.3 19.4 19.4" width="19.4" height="19.4"><path d="M5.55 9.9L8.55 12.65L14 7.35" fill="none" stroke="#fff" stroke-opacity="0.85" stroke-width="1.15" stroke-linecap="round" stroke-linejoin="round"/></svg></span></div></div>
<div class="card" style="left:199px;top:493px;width:200px;height:95.4px"><div class="lb" style="left:19.75px;top:17.95px;letter-spacing:0.096px">Yhteistuotanto</div><div class="lb" style="left:18.75px;top:32.20px;letter-spacing:0.068px">(teollisuus)</div><div class="nm" style="left:18.72px;top:49.00px;transform:scaleX(1.0345)">1 173</div><div class="un" style="left:87.00px;top:58.95px;letter-spacing:0.750px">MW</div><div class="ic" style="left:160.75px;top:38.00px"><span class="ck" style="background:#72808c"><svg viewBox="0.3 0.3 19.4 19.4" width="19.4" height="19.4"><path d="M5.55 9.9L8.55 12.65L14 7.35" fill="none" stroke="#fff" stroke-opacity="0.85" stroke-width="1.15" stroke-linecap="round" stroke-linejoin="round"/></svg></span></div></div>
<div class="card" style="left:401px;top:493px;width:200px;height:95.4px"><div class="lb" style="left:19.75px;top:17.95px;letter-spacing:0.096px">Yhteistuotanto</div><div class="lb" style="left:18.75px;top:32.20px;letter-spacing:0.045px">(kaukolämpö)</div><div class="nm" style="left:18.55px;top:49.00px;transform:scaleX(1.2039)">922</div><div class="un" style="left:72.50px;top:58.95px;letter-spacing:0.750px">MW</div><div class="ic" style="left:160.75px;top:38.00px"><span class="ck" style="background:#d9dde5"><svg viewBox="0.3 0.3 19.4 19.4" width="19.4" height="19.4"><path d="M5.55 9.9L8.55 12.65L14 7.35" fill="none" stroke="#fff" stroke-opacity="0.85" stroke-width="1.15" stroke-linecap="round" stroke-linejoin="round"/></svg></span></div></div>
<div class="card" style="left:603px;top:493px;width:200px;height:95.4px"><div class="lb" style="left:18.75px;top:25.70px;letter-spacing:0.159px">Muu tuotanto</div><div class="nm" style="left:19.75px;top:41.50px;transform:scaleX(0.9615)">41</div><div class="un" style="left:52.50px;top:51.45px;letter-spacing:0.750px">MW</div><div class="ic" style="left:160.75px;top:38.00px"><span class="ck" style="background:#98588a"><svg viewBox="0.3 0.3 19.4 19.4" width="19.4" height="19.4"><path d="M5.55 9.9L8.55 12.65L14 7.35" fill="none" stroke="#fff" stroke-opacity="0.85" stroke-width="1.15" stroke-linecap="round" stroke-linejoin="round"/></svg></span></div></div>
<div class="card" style="left:805px;top:493px;width:200px;height:95.4px"><div class="lb" style="left:19.75px;top:25.70px;letter-spacing:-0.125px">Tehoreservi</div><div class="nm" style="left:18.50px;top:41.50px;transform:scaleX(1.2500)">0</div><div class="un" style="left:40.75px;top:51.45px;letter-spacing:0.750px">MW</div><div class="ic" style="left:160.75px;top:38.00px"><span class="ck" style="background:#6a9a86"><svg viewBox="0.3 0.3 19.4 19.4" width="19.4" height="19.4"><path d="M5.55 9.9L8.55 12.65L14 7.35" fill="none" stroke="#fff" stroke-opacity="0.85" stroke-width="1.15" stroke-linecap="round" stroke-linejoin="round"/></svg></span></div></div>
<div class="card" style="left:0px;top:590px;width:197px;height:79.6px"><div class="lb" style="left:16.75px;top:17.70px;letter-spacing:-0.306px">Tuulivoima</div><div class="nm" style="left:16.75px;top:33.50px;transform:scaleX(1.1667)">432</div><div class="un" style="left:69.50px;top:43.45px;letter-spacing:0.750px">MW</div><div class="ic" style="left:157.75px;top:30.00px"><span class="ck" style="background:#dbb6bd"><svg viewBox="0.3 0.3 19.4 19.4" width="19.4" height="19.4"><path d="M5.55 9.9L8.55 12.65L14 7.35" fill="none" stroke="#fff" stroke-opacity="0.85" stroke-width="1.15" stroke-linecap="round" stroke-linejoin="round"/></svg></span></div></div>
<div class="card" style="left:199px;top:590px;width:200px;height:79.6px"><div class="lb" style="left:19.75px;top:17.70px;letter-spacing:-0.182px">Aurinkovoima</div><div class="nm" style="left:18.50px;top:33.50px;transform:scaleX(1.2500)">0</div><div class="un" style="left:41.25px;top:43.45px;letter-spacing:0.750px">MW</div><div class="ic" style="left:160.75px;top:30.00px"><span class="ck" style="background:#f7ec66"><svg viewBox="0.3 0.3 19.4 19.4" width="19.4" height="19.4"><path d="M5.55 9.9L8.55 12.65L14 7.35" fill="none" stroke="#3b4a58" stroke-opacity="1" stroke-width="1.15" stroke-linecap="round" stroke-linejoin="round"/></svg></span></div></div>
<div class="card" style="left:401px;top:590px;width:200px;height:79.6px"><div class="lb" style="left:19.75px;top:17.70px;letter-spacing:-0.344px">Vesivoima</div><div class="nm" style="left:18.66px;top:33.50px;transform:scaleX(1.0890)">1 724</div><div class="un" style="left:90.50px;top:43.45px;letter-spacing:0.750px">MW</div><div class="ic" style="left:160.75px;top:30.00px"><span class="ck" style="background:#9cc6f4"><svg viewBox="0.3 0.3 19.4 19.4" width="19.4" height="19.4"><path d="M5.55 9.9L8.55 12.65L14 7.35" fill="none" stroke="#3b4a58" stroke-opacity="1" stroke-width="1.15" stroke-linecap="round" stroke-linejoin="round"/></svg></span></div></div>
<div class="card" style="left:603px;top:590px;width:200px;height:79.6px"><div class="lb" style="left:19.75px;top:17.70px;letter-spacing:-0.054px">Tuotantoennuste</div><div class="nm" style="left:18.50px;top:33.50px;transform:scaleX(1.2500)">0</div><div class="un" style="left:41.25px;top:43.45px;letter-spacing:0.750px">MW</div><div class="ic" style="left:160.75px;top:30.00px"><span class="ck" style="background:#b5bdc9"><svg viewBox="0.3 0.3 19.4 19.4" width="19.4" height="19.4"><path d="M5.55 9.9L8.55 12.65L14 7.35" fill="none" stroke="#fff" stroke-opacity="0.85" stroke-width="1.15" stroke-linecap="round" stroke-linejoin="round"/></svg></span></div></div>
<div class="card" style="left:0px;top:671px;width:197px;height:93.8px"><div class="lb" style="left:15.75px;top:24.70px;letter-spacing:0.125px">Kulutus</div><div class="nm" style="left:15.59px;top:40.50px;transform:scaleX(1.1638)">8 307</div><div class="un" style="left:90.50px;top:50.45px;letter-spacing:0.750px">MW</div><div class="ic" style="left:157.75px;top:37.00px"><span class="ck" style="background:#5f3653"><svg viewBox="0.3 0.3 19.4 19.4" width="19.4" height="19.4"><path d="M5.55 9.9L8.55 12.65L14 7.35" fill="none" stroke="#fff" stroke-opacity="0.85" stroke-width="1.15" stroke-linecap="round" stroke-linejoin="round"/></svg></span></div></div>
<div class="card" style="left:199px;top:671px;width:200px;height:93.8px"><div class="lb" style="left:18.75px;top:17.95px;letter-spacing:-0.083px">Suomen aluehinta</div><div class="lb" style="left:19.75px;top:32.20px;letter-spacing:-0.036px">vuorokausimarkkinoilla</div><div class="nm" style="left:18.63px;top:48.50px;transform:scaleX(1.1207)">103,6</div><div class="un" style="left:93.00px;top:58.45px;letter-spacing:0.208px">€ / MWh</div><div class="ic" style="left:160.75px;top:37.00px"><svg class="rdo" width="20" height="20" viewBox="0 0 20 20"><circle cx="10" cy="10" r="8.9" fill="#fff" stroke="#425260" stroke-width="1.75"/><circle cx="10" cy="10" r="4.8" fill="#425260"/></svg></div></div>
<div class="card faded" style="left:401px;top:671px;width:200px;height:93.8px"><div class="lb" style="left:19.75px;top:17.95px;letter-spacing:-0.145px">Tuotetun sähkön CO<sub>2</sub>-</div><div class="lb" style="left:18.75px;top:32.20px;letter-spacing:0.125px">päästöarvio</div><div class="nm" style="left:18.78px;top:48.50px;transform:scaleX(0.9700)">71</div><div class="un" style="left:52.75px;top:58.45px;letter-spacing:0.688px">g/kWh</div><div class="ic" style="left:160.75px;top:37.00px"><svg class="rdo" width="20" height="20" viewBox="0 0 20 20"><circle cx="10" cy="10" r="8.9" fill="#fff" stroke="#425260" stroke-width="1.75"/></svg></div></div>
<div class="card faded" style="left:603px;top:671px;width:200px;height:93.8px"><div class="lb" style="left:18.75px;top:17.95px;letter-spacing:-0.025px">Kulutetun sähkön CO<sub>2</sub>-</div><div class="lb" style="left:18.75px;top:32.20px;letter-spacing:0.125px">päästöarvio</div><div class="nm" style="left:18.55px;top:48.50px;transform:scaleX(1.2000)">96</div><div class="un" style="left:57.75px;top:58.45px;letter-spacing:0.688px">g/kWh</div><div class="ic" style="left:160.75px;top:37.00px"><svg class="rdo" width="20" height="20" viewBox="0 0 20 20"><circle cx="10" cy="10" r="8.9" fill="#fff" stroke="#425260" stroke-width="1.75"/></svg></div></div>
<div class="card" style="left:805px;top:671px;width:200px;height:93.8px"><div class="lb" style="left:18.75px;top:24.70px;letter-spacing:0.019px">Kulutusennuste</div><div class="nm" style="left:18.50px;top:40.50px;transform:scaleX(1.2500)">0</div><div class="un" style="left:40.75px;top:50.45px;letter-spacing:0.750px">MW</div><div class="ic" style="left:160.75px;top:37.00px"><span class="ck" style="background:#5f3653"><svg viewBox="0.3 0.3 19.4 19.4" width="19.4" height="19.4"><path d="M5.55 9.9L8.55 12.65L14 7.35" fill="none" stroke="#fff" stroke-opacity="0.85" stroke-width="1.15" stroke-linecap="round" stroke-linejoin="round"/></svg></span></div></div>
<div class="empty"></div>
</div>
</body></html>
